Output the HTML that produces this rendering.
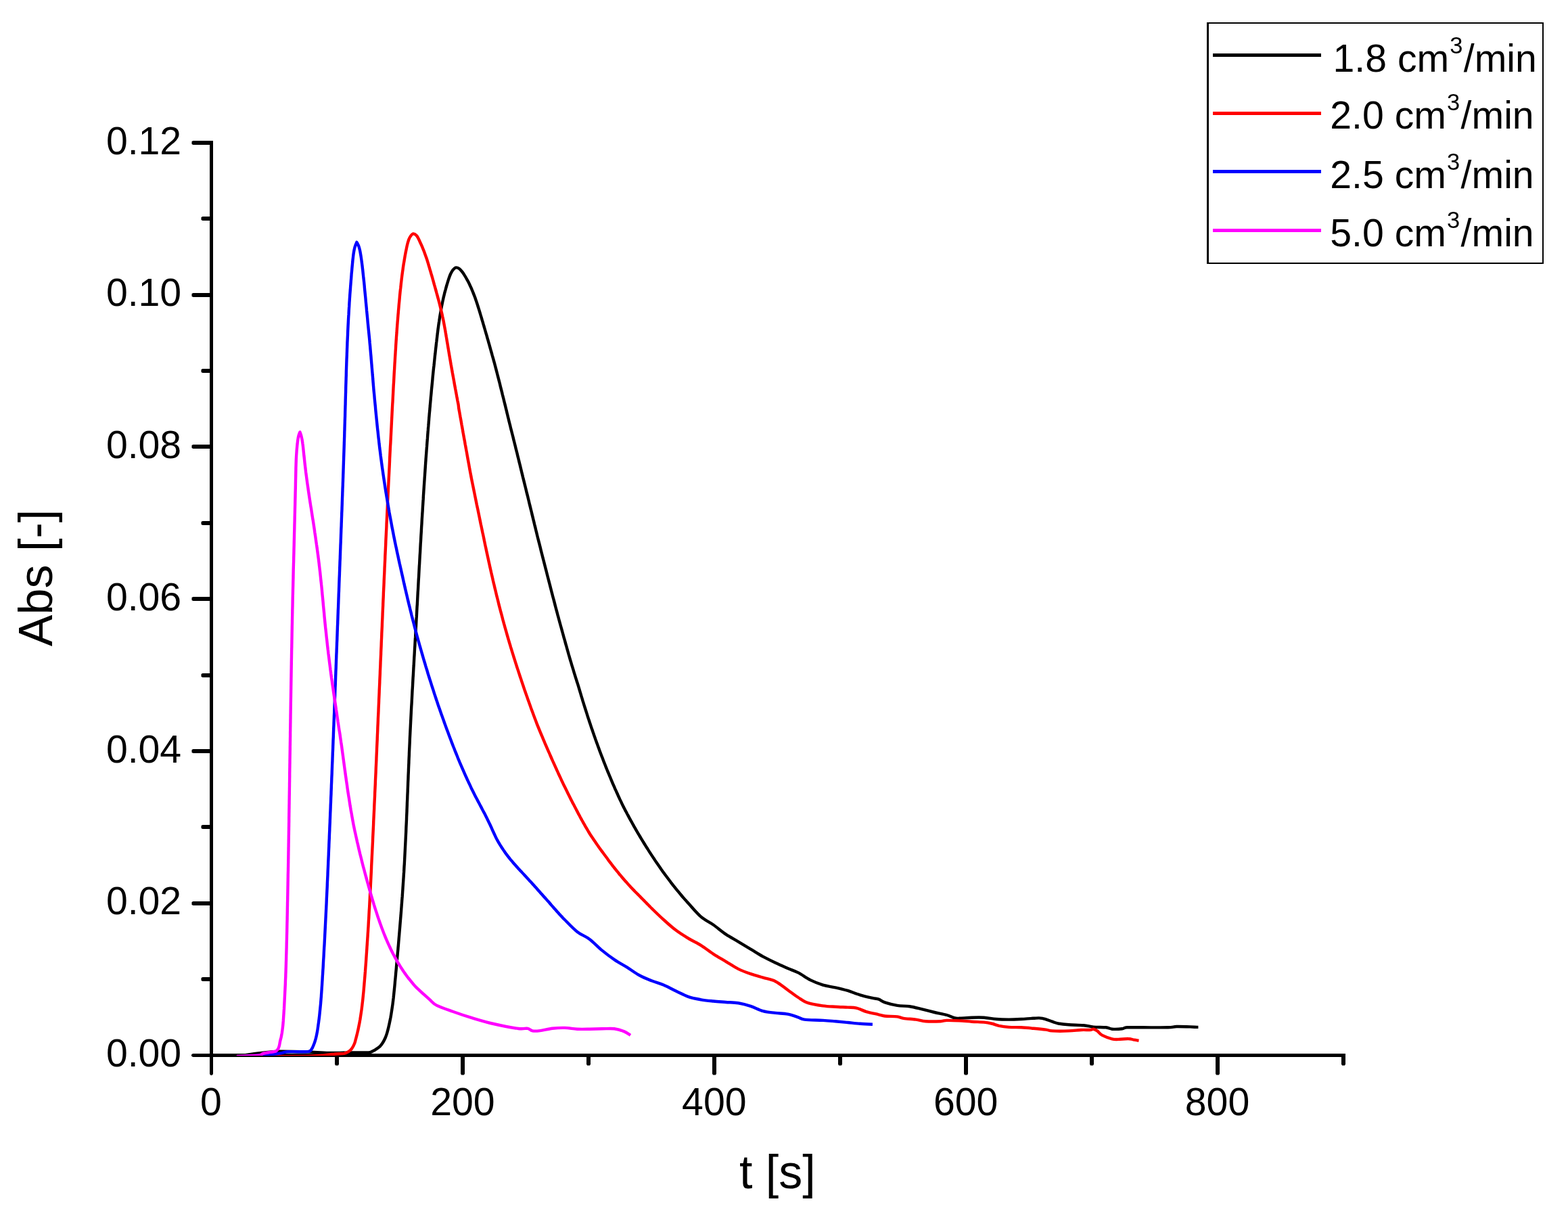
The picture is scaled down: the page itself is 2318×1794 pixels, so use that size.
<!DOCTYPE html>
<html lang="en">
<head>
<meta charset="utf-8">
<title>Abs vs t</title>
<style>
html,body{margin:0;padding:0;background:#fff;}
body{width:2318px;height:1794px;overflow:hidden;}
svg{display:block;}
</style>
</head>
<body>
<svg width="2318" height="1794" viewBox="0 0 2318 1794">
<rect width="2318" height="1794" fill="#fff"/>
<g fill="#000">
<path d="M310 208H315V1587L313.5 1589H311.5L310 1587Z"/>
<path d="M285 1557H1989V1562H285L283 1560.5V1558.5Z"/>
<path d="M312 1444 H299.5 L297.5 1445 V1449 L299.5 1450 H312Z"/>
<path d="M312 1332 H285.5 L283.5 1333 V1337 L285.5 1338 H312Z"/>
<path d="M312 1219 H299.5 L297.5 1220 V1224 L299.5 1225 H312Z"/>
<path d="M312 1107 H285.5 L283.5 1108 V1112 L285.5 1113 H312Z"/>
<path d="M312 995 H299.5 L297.5 996 V1000 L299.5 1001 H312Z"/>
<path d="M312 882 H285.5 L283.5 883 V887 L285.5 888 H312Z"/>
<path d="M312 770 H299.5 L297.5 771 V775 L299.5 776 H312Z"/>
<path d="M312 657 H285.5 L283.5 658 V662 L285.5 663 H312Z"/>
<path d="M312 545 H299.5 L297.5 546 V550 L299.5 551 H312Z"/>
<path d="M312 433 H285.5 L283.5 434 V438 L285.5 439 H312Z"/>
<path d="M312 320 H299.5 L297.5 321 V325 L299.5 326 H312Z"/>
<path d="M312 208 H285.5 L283.5 209 V213 L285.5 214 H312Z"/>
<path d="M495 1560 V1572.5 L496 1574.5 H500 L501 1572.5 V1560Z"/>
<path d="M681 1560 V1586.5 L682 1588.5 H686 L687 1586.5 V1560Z"/>
<path d="M867 1560 V1572.5 L868 1574.5 H872 L873 1572.5 V1560Z"/>
<path d="M1053 1560 V1586.5 L1054 1588.5 H1058 L1059 1586.5 V1560Z"/>
<path d="M1239 1560 V1572.5 L1240 1574.5 H1244 L1245 1572.5 V1560Z"/>
<path d="M1425 1560 V1586.5 L1426 1588.5 H1430 L1431 1586.5 V1560Z"/>
<path d="M1611 1560 V1572.5 L1612 1574.5 H1616 L1617 1572.5 V1560Z"/>
<path d="M1797 1560 V1586.5 L1798 1588.5 H1802 L1803 1586.5 V1560Z"/>
<path d="M1983 1560 V1572.5 L1984 1574.5 H1988 L1989 1572.5 V1560Z"/>
</g>
<clipPath id="pc"><rect x="313" y="200" width="1680" height="1360"/></clipPath>
<g fill="none" stroke-width="4.4" stroke-linejoin="round" stroke-linecap="butt" clip-path="url(#pc)">
<path stroke="#000000" d="M350.5 1561.0C355.4 1560.3 371.0 1557.9 379.8 1556.8C388.6 1555.6 396.9 1554.6 403.3 1554.1C409.6 1553.6 409.4 1553.7 417.9 1553.8C426.5 1553.8 443.1 1554.1 454.5 1554.4C466.0 1554.8 476.0 1555.7 486.6 1555.9C497.2 1556.1 509.0 1555.5 518.1 1555.4C527.3 1555.3 536.4 1555.5 541.6 1555.4C546.7 1555.2 545.9 1555.7 548.9 1554.4C552.0 1553.2 557.4 1549.7 559.9 1547.8C562.4 1546.0 562.8 1544.9 564.1 1543.3C565.3 1541.8 566.4 1540.1 567.3 1538.4C568.3 1536.6 569.1 1534.8 569.9 1533.0C570.6 1531.2 571.3 1529.3 571.9 1527.4C572.5 1525.4 573.0 1523.5 573.5 1521.6C574.0 1519.6 574.5 1517.7 574.9 1515.7C575.4 1513.7 575.8 1511.8 576.2 1509.8C576.6 1507.9 577.0 1505.9 577.4 1503.9C577.7 1502.0 578.1 1500.0 578.4 1498.0C578.7 1496.1 579.0 1494.1 579.3 1492.1C579.6 1490.1 579.9 1488.2 580.2 1486.2C580.5 1484.2 580.7 1482.2 581.0 1480.2C581.2 1478.2 581.4 1476.3 581.7 1474.3C581.9 1472.3 582.1 1470.3 582.3 1468.3C582.5 1466.3 582.7 1464.3 582.9 1462.3C583.1 1460.4 583.3 1458.4 583.5 1456.4C583.7 1454.4 583.9 1452.4 584.0 1450.4C584.2 1448.4 584.4 1446.4 584.6 1444.4C584.8 1442.4 585.0 1440.4 585.1 1438.4C585.3 1436.5 585.5 1434.5 585.7 1432.5C585.9 1430.5 586.0 1428.5 586.2 1426.5C586.4 1424.5 586.6 1422.5 586.8 1420.5C586.9 1418.5 587.1 1416.5 587.3 1414.5C587.5 1412.6 587.7 1410.6 587.8 1408.6C588.0 1406.6 588.2 1404.6 588.4 1402.6C588.5 1400.6 588.7 1398.6 588.9 1396.6C589.1 1394.6 589.2 1392.6 589.4 1390.6C589.6 1388.6 589.7 1386.7 589.9 1384.7C590.1 1382.7 590.3 1380.7 590.4 1378.7C590.6 1376.7 590.8 1374.7 590.9 1372.7C591.1 1370.7 591.3 1368.7 591.4 1366.7C591.6 1364.7 591.7 1362.7 591.9 1360.7C592.1 1358.8 592.2 1356.8 592.4 1354.8C592.5 1352.8 592.7 1350.8 592.9 1348.8C593.0 1346.8 593.2 1344.8 593.3 1342.8C593.5 1340.8 593.6 1338.8 593.8 1336.8C593.9 1334.8 594.1 1332.8 594.2 1330.8C594.4 1328.8 594.5 1326.8 594.7 1324.9C594.8 1322.9 595.0 1320.9 595.1 1318.9C595.2 1316.9 595.4 1314.9 595.5 1312.9C595.6 1310.9 595.8 1308.9 595.9 1306.9C596.0 1304.9 596.2 1302.9 596.3 1300.9C596.4 1298.9 596.6 1296.9 596.7 1294.9C596.8 1292.9 596.9 1290.9 597.1 1288.9C597.2 1286.9 597.3 1284.9 597.4 1282.9C597.5 1281.0 597.6 1279.0 597.8 1277.0C597.9 1275.0 598.0 1273.0 598.1 1271.0C598.2 1269.0 598.3 1267.0 598.4 1265.0C598.5 1263.0 598.6 1261.0 598.7 1259.0C598.8 1257.0 598.9 1255.0 599.0 1253.0C599.1 1251.0 599.2 1249.0 599.3 1247.0C599.4 1245.0 599.5 1243.0 599.6 1241.0C599.7 1239.0 599.8 1237.0 599.9 1235.0C600.0 1233.0 600.1 1231.0 600.2 1229.0C600.3 1227.0 600.3 1225.0 600.4 1223.0C600.5 1221.0 600.6 1219.0 600.7 1217.0C600.8 1215.0 600.9 1213.0 601.0 1211.0C601.0 1209.0 601.1 1207.0 601.2 1205.0C601.3 1203.0 601.4 1201.0 601.5 1199.0C601.5 1197.0 601.6 1195.0 601.7 1193.0C601.8 1191.0 601.9 1189.0 601.9 1187.0C602.0 1185.0 602.1 1183.0 602.2 1181.0C602.3 1179.0 602.3 1177.1 602.4 1175.1C602.5 1173.1 602.6 1171.1 602.7 1169.1C602.7 1167.1 602.8 1165.1 602.9 1163.1C603.0 1161.1 603.1 1159.1 603.1 1157.1C603.2 1155.1 603.3 1153.1 603.4 1151.1C603.5 1149.1 603.5 1147.1 603.6 1145.1C603.7 1143.1 603.8 1141.1 603.9 1139.1C603.9 1137.1 604.0 1135.1 604.1 1133.1C604.2 1131.1 604.3 1129.1 604.4 1127.1C604.4 1125.1 604.5 1123.1 604.6 1121.1C604.7 1119.1 604.8 1117.1 604.9 1115.1C604.9 1113.1 605.0 1111.1 605.1 1109.1C605.2 1107.1 605.3 1105.1 605.4 1103.1C605.5 1101.1 605.6 1099.1 605.7 1097.1C605.8 1095.1 605.8 1093.1 605.9 1091.1C606.0 1089.1 606.1 1087.1 606.2 1085.1C606.3 1083.1 606.4 1081.1 606.5 1079.1C606.6 1077.1 606.7 1075.1 606.8 1073.1C606.9 1071.1 607.0 1069.1 607.1 1067.1C607.2 1065.1 607.3 1063.2 607.4 1061.2C607.5 1059.2 607.6 1057.2 607.7 1055.2C607.8 1053.2 607.9 1051.2 608.0 1049.2C608.1 1047.2 608.2 1045.2 608.3 1043.2C608.5 1041.2 608.6 1039.2 608.7 1037.2C608.8 1035.2 608.9 1033.2 609.0 1031.2C609.1 1029.2 609.2 1027.2 609.3 1025.2C609.4 1023.2 609.5 1021.2 609.6 1019.2C609.8 1017.2 609.9 1015.2 610.0 1013.2C610.1 1011.2 610.2 1009.2 610.3 1007.2C610.4 1005.3 610.5 1003.3 610.6 1001.3C610.8 999.3 610.9 997.3 611.0 995.3C611.1 993.3 611.2 991.3 611.3 989.3C611.4 987.3 611.5 985.3 611.7 983.3C611.8 981.3 611.9 979.3 612.0 977.3C612.1 975.3 612.2 973.3 612.3 971.3C612.5 969.3 612.6 967.3 612.7 965.3C612.8 963.3 612.9 961.3 613.0 959.3C613.1 957.3 613.3 955.3 613.4 953.4C613.5 951.4 613.6 949.4 613.7 947.4C613.8 945.4 613.9 943.4 614.1 941.4C614.2 939.4 614.3 937.4 614.4 935.4C614.5 933.4 614.6 931.4 614.7 929.4C614.9 927.4 615.0 925.4 615.1 923.4C615.2 921.4 615.3 919.4 615.4 917.4C615.5 915.4 615.6 913.4 615.8 911.4C615.9 909.4 616.0 907.4 616.1 905.4C616.2 903.4 616.3 901.4 616.4 899.4C616.5 897.4 616.6 895.4 616.8 893.5C616.9 891.5 617.0 889.5 617.1 887.5C617.2 885.5 617.3 883.5 617.4 881.5C617.5 879.5 617.6 877.5 617.7 875.5C617.9 873.5 618.0 871.5 618.1 869.5C618.2 867.5 618.3 865.5 618.4 863.5C618.5 861.5 618.6 859.5 618.7 857.5C618.8 855.5 619.0 853.5 619.1 851.5C619.2 849.5 619.3 847.5 619.4 845.5C619.5 843.5 619.6 841.5 619.7 839.5C619.8 837.5 619.9 835.5 620.1 833.5C620.2 831.5 620.3 829.5 620.4 827.5C620.5 825.5 620.6 823.5 620.7 821.6C620.8 819.6 621.0 817.6 621.1 815.6C621.2 813.6 621.3 811.6 621.4 809.6C621.5 807.6 621.6 805.6 621.7 803.6C621.9 801.6 622.0 799.6 622.1 797.6C622.2 795.6 622.3 793.6 622.4 791.6C622.5 789.6 622.7 787.6 622.8 785.6C622.9 783.6 623.0 781.6 623.1 779.6C623.2 777.6 623.4 775.6 623.5 773.6C623.6 771.6 623.7 769.6 623.8 767.6C623.9 765.6 624.1 763.6 624.2 761.6C624.3 759.6 624.4 757.6 624.6 755.6C624.7 753.7 624.8 751.7 624.9 749.7C625.0 747.7 625.2 745.7 625.3 743.7C625.4 741.7 625.5 739.7 625.7 737.7C625.8 735.7 625.9 733.7 626.0 731.7C626.2 729.7 626.3 727.7 626.4 725.7C626.5 723.7 626.7 721.7 626.8 719.7C626.9 717.7 627.1 715.7 627.2 713.7C627.3 711.7 627.5 709.7 627.6 707.7C627.7 705.7 627.9 703.7 628.0 701.8C628.1 699.8 628.3 697.8 628.4 695.8C628.5 693.8 628.7 691.8 628.8 689.8C628.9 687.8 629.1 685.8 629.2 683.8C629.4 681.8 629.5 679.8 629.6 677.8C629.8 675.8 629.9 673.8 630.1 671.8C630.2 669.8 630.4 667.8 630.5 665.8C630.7 663.8 630.8 661.9 631.0 659.9C631.1 657.9 631.3 655.9 631.4 653.9C631.6 651.9 631.7 649.9 631.9 647.9C632.0 645.9 632.2 643.9 632.3 641.9C632.5 639.9 632.6 637.9 632.8 635.9C632.9 633.9 633.1 631.9 633.3 629.9C633.4 628.0 633.6 626.0 633.8 624.0C633.9 622.0 634.1 620.0 634.2 618.0C634.4 616.0 634.6 614.0 634.7 612.0C634.9 610.0 635.1 608.0 635.3 606.0C635.4 604.0 635.6 602.0 635.8 600.1C635.9 598.1 636.1 596.1 636.3 594.1C636.5 592.1 636.7 590.1 636.8 588.1C637.0 586.1 637.2 584.1 637.4 582.1C637.6 580.1 637.7 578.1 637.9 576.2C638.1 574.2 638.3 572.2 638.5 570.2C638.7 568.2 638.9 566.2 639.1 564.2C639.3 562.2 639.5 560.2 639.6 558.2C639.8 556.3 640.0 554.3 640.2 552.3C640.4 550.3 640.6 548.3 640.8 546.3C641.0 544.3 641.2 542.3 641.5 540.3C641.7 538.3 641.9 536.4 642.1 534.4C642.3 532.4 642.5 530.4 642.7 528.4C642.9 526.4 643.1 524.4 643.4 522.4C643.6 520.4 643.8 518.5 644.0 516.5C644.2 514.5 644.5 512.5 644.7 510.5C644.9 508.5 645.1 506.5 645.4 504.5C645.6 502.6 645.8 500.6 646.1 498.6C646.3 496.6 646.5 494.6 646.8 492.6C647.0 490.6 647.3 488.7 647.5 486.7C647.8 484.7 648.1 482.7 648.3 480.7C648.6 478.8 648.9 476.8 649.2 474.8C649.5 472.8 649.8 470.8 650.1 468.9C650.4 466.9 650.7 464.9 651.1 463.0C651.4 461.0 651.7 459.0 652.1 457.1C652.5 455.1 652.8 453.1 653.2 451.2C653.6 449.2 654.0 447.2 654.4 445.3C654.9 443.3 655.3 441.4 655.7 439.4C656.2 437.5 656.7 435.5 657.1 433.6C657.6 431.7 658.1 429.7 658.7 427.8C659.2 425.9 659.7 423.9 660.3 422.0C660.8 420.1 661.4 418.2 662.0 416.3C662.6 414.4 663.2 412.5 663.9 410.6C664.5 408.7 665.2 406.8 666.0 405.0C666.9 403.2 667.8 401.3 669.0 399.7C670.2 398.2 671.7 396.1 673.3 395.6C675.0 395.1 677.1 395.8 678.7 396.8C680.3 397.7 681.7 399.7 682.9 401.3C684.2 402.8 685.3 404.4 686.3 406.1C687.4 407.8 688.4 409.5 689.4 411.3C690.4 413.0 691.4 414.8 692.3 416.6C693.2 418.4 694.1 420.2 694.9 422.0C695.8 423.8 696.6 425.6 697.4 427.4C698.1 429.3 698.9 431.1 699.6 433.0C700.4 434.8 701.1 436.7 701.8 438.6C702.5 440.4 703.1 442.3 703.8 444.2C704.4 446.1 705.1 448.0 705.7 449.9C706.3 451.8 706.9 453.7 707.5 455.6C708.1 457.5 708.7 459.4 709.3 461.4C709.9 463.3 710.4 465.2 711.0 467.1C711.6 469.0 712.2 470.9 712.7 472.9C713.3 474.8 713.9 476.7 714.4 478.6C715.0 480.5 715.6 482.5 716.1 484.4C716.7 486.3 717.2 488.2 717.8 490.2C718.3 492.1 718.9 494.0 719.5 495.9C720.0 497.8 720.6 499.8 721.1 501.7C721.7 503.6 722.2 505.5 722.8 507.5C723.3 509.4 723.9 511.3 724.4 513.2C724.9 515.2 725.5 517.1 726.0 519.0C726.6 520.9 727.1 522.9 727.6 524.8C728.2 526.7 728.7 528.6 729.3 530.6C729.8 532.5 730.3 534.4 730.9 536.4C731.4 538.3 731.9 540.2 732.4 542.1C732.9 544.1 733.4 546.0 733.9 547.9C734.4 549.8 734.9 551.8 735.4 553.7C735.9 555.6 736.4 557.6 736.9 559.5C737.4 561.4 737.9 563.4 738.4 565.3C738.9 567.2 739.3 569.1 739.8 571.1C740.3 573.0 740.8 574.9 741.3 576.9C741.8 578.8 742.3 580.7 742.7 582.7C743.2 584.6 743.7 586.5 744.2 588.5C744.7 590.4 745.1 592.3 745.6 594.3C746.1 596.2 746.6 598.1 747.1 600.1C747.5 602.0 748.0 603.9 748.5 605.9C749.0 607.8 749.4 609.7 749.9 611.7C750.4 613.6 750.8 615.5 751.3 617.5C751.8 619.4 752.2 621.3 752.7 623.3C753.2 625.2 753.7 627.2 754.2 629.1C754.6 631.0 755.1 633.0 755.6 634.9C756.1 636.8 756.6 638.8 757.1 640.7C757.6 642.7 758.1 644.6 758.6 646.5C759.0 648.5 759.5 650.4 760.0 652.3C760.5 654.3 761.0 656.2 761.5 658.2C762.0 660.1 762.4 662.0 762.9 664.0C763.4 665.9 763.9 667.9 764.4 669.8C764.8 671.7 765.3 673.7 765.8 675.6C766.3 677.6 766.8 679.5 767.2 681.4C767.7 683.4 768.2 685.3 768.7 687.3C769.1 689.2 769.6 691.1 770.1 693.1C770.6 695.0 771.0 697.0 771.5 698.9C772.0 700.9 772.5 702.8 772.9 704.7C773.4 706.7 773.9 708.6 774.4 710.6C774.9 712.5 775.4 714.5 775.8 716.4C776.3 718.3 776.8 720.3 777.3 722.2C777.8 724.2 778.2 726.1 778.7 728.1C779.2 730.0 779.7 731.9 780.2 733.9C780.6 735.8 781.1 737.8 781.6 739.7C782.1 741.7 782.5 743.6 783.0 745.6C783.5 747.5 784.0 749.4 784.4 751.4C784.9 753.3 785.4 755.3 785.9 757.2C786.3 759.2 786.8 761.1 787.3 763.1C787.8 765.0 788.2 767.0 788.7 768.9C789.2 770.8 789.7 772.8 790.1 774.7C790.6 776.7 791.1 778.6 791.6 780.6C792.0 782.5 792.5 784.5 793.0 786.4C793.5 788.4 793.9 790.3 794.4 792.3C794.9 794.2 795.4 796.2 795.9 798.1C796.4 800.1 796.9 802.0 797.4 803.9C797.9 805.9 798.4 807.8 798.9 809.8C799.3 811.7 799.8 813.7 800.3 815.6C800.8 817.6 801.3 819.5 801.8 821.5C802.3 823.4 802.8 825.4 803.3 827.3C803.8 829.3 804.3 831.2 804.8 833.1C805.3 835.1 805.8 837.0 806.3 839.0C806.8 840.9 807.3 842.9 807.8 844.8C808.3 846.8 808.8 848.7 809.3 850.7C809.8 852.6 810.3 854.5 810.8 856.5C811.3 858.4 811.8 860.4 812.3 862.3C812.8 864.3 813.3 866.2 813.8 868.1C814.3 870.1 814.8 872.0 815.3 874.0C815.8 875.9 816.3 877.9 816.8 879.8C817.3 881.7 817.8 883.7 818.4 885.6C818.9 887.6 819.4 889.5 819.9 891.4C820.4 893.4 820.9 895.3 821.4 897.3C821.9 899.2 822.5 901.1 823.0 903.1C823.5 905.0 824.0 907.0 824.5 908.9C825.1 910.8 825.6 912.8 826.1 914.7C826.6 916.6 827.2 918.6 827.7 920.5C828.2 922.4 828.7 924.4 829.3 926.3C829.8 928.2 830.4 930.2 830.9 932.1C831.4 934.0 832.0 936.0 832.5 937.9C833.0 939.8 833.6 941.8 834.1 943.7C834.7 945.6 835.2 947.5 835.7 949.5C836.3 951.4 836.8 953.3 837.4 955.2C837.9 957.2 838.4 959.1 839.0 961.0C839.5 962.9 840.1 964.9 840.6 966.8C841.2 968.7 841.7 970.6 842.3 972.6C842.8 974.5 843.4 976.4 844.0 978.3C844.5 980.2 845.1 982.2 845.7 984.1C846.3 986.0 846.9 987.9 847.5 989.8C848.0 991.7 848.6 993.7 849.2 995.6C849.8 997.5 850.4 999.4 851.0 1001.3C851.6 1003.2 852.2 1005.1 852.8 1007.0C853.4 1008.9 854.1 1010.9 854.7 1012.8C855.3 1014.7 855.8 1016.6 856.4 1018.5C857.0 1020.4 857.5 1022.3 858.1 1024.2C858.7 1026.1 859.2 1028.0 859.8 1029.9C860.4 1031.8 861.0 1033.7 861.5 1035.6C862.1 1037.5 862.7 1039.4 863.3 1041.3C863.9 1043.2 864.5 1045.1 865.1 1047.0C865.7 1048.9 866.3 1050.8 866.9 1052.7C867.5 1054.5 868.1 1056.4 868.7 1058.3C869.3 1060.2 869.9 1062.1 870.6 1064.0C871.2 1065.9 871.8 1067.8 872.4 1069.6C873.1 1071.5 873.7 1073.4 874.3 1075.3C875.0 1077.2 875.6 1079.0 876.3 1080.9C876.9 1082.8 877.6 1084.7 878.2 1086.5C878.9 1088.4 879.6 1090.3 880.2 1092.2C880.9 1094.0 881.6 1095.9 882.2 1097.8C882.9 1099.6 883.6 1101.5 884.3 1103.4C885.0 1105.2 885.6 1107.1 886.3 1109.0C887.0 1110.8 887.7 1112.7 888.4 1114.6C889.1 1116.4 889.8 1118.3 890.6 1120.1C891.3 1122.0 892.0 1123.8 892.7 1125.7C893.4 1127.5 894.2 1129.4 894.9 1131.3C895.6 1133.1 896.4 1134.9 897.1 1136.8C897.9 1138.6 898.6 1140.5 899.4 1142.3C900.1 1144.2 900.9 1146.0 901.7 1147.8C902.4 1149.7 903.2 1151.5 904.0 1153.4C904.8 1155.2 905.5 1157.0 906.3 1158.9C907.1 1160.7 907.9 1162.5 908.7 1164.3C909.5 1166.2 910.4 1168.0 911.2 1169.8C912.0 1171.6 912.8 1173.4 913.6 1175.2C914.5 1177.1 915.3 1178.9 916.1 1180.7C917.0 1182.5 917.8 1184.3 918.7 1186.1C919.5 1187.9 920.4 1189.7 921.3 1191.5C922.2 1193.3 923.2 1195.1 924.1 1196.9C925.0 1198.7 926.0 1200.4 926.9 1202.2C927.9 1204.0 928.8 1205.8 929.8 1207.6C930.7 1209.3 931.7 1211.1 932.7 1212.9C933.7 1214.6 934.6 1216.4 935.6 1218.2C936.6 1219.9 937.6 1221.7 938.6 1223.4C939.6 1225.2 940.6 1226.9 941.6 1228.7C942.6 1230.4 943.7 1232.2 944.7 1233.9C945.7 1235.6 946.8 1237.4 947.8 1239.1C948.8 1240.8 949.9 1242.5 950.9 1244.2C952.0 1246.0 953.1 1247.7 954.1 1249.4C955.2 1251.1 956.3 1252.8 957.4 1254.5C958.4 1256.2 959.5 1257.9 960.6 1259.6C961.7 1261.3 962.8 1262.9 963.9 1264.6C965.0 1266.3 966.1 1268.0 967.2 1269.6C968.3 1271.3 969.4 1273.0 970.5 1274.6C971.7 1276.3 972.8 1277.9 974.0 1279.6C975.1 1281.2 976.3 1282.9 977.4 1284.5C978.6 1286.1 979.7 1287.8 980.9 1289.4C982.1 1291.0 983.3 1292.6 984.5 1294.2C985.7 1295.8 986.9 1297.4 988.1 1299.0C989.3 1300.6 990.5 1302.2 991.7 1303.8C993.0 1305.4 994.2 1307.0 995.4 1308.6C996.7 1310.1 997.9 1311.7 999.2 1313.3C1000.4 1314.8 1001.7 1316.4 1003.0 1317.9C1004.3 1319.5 1005.5 1321.0 1006.8 1322.5C1008.1 1324.1 1009.4 1325.6 1010.7 1327.1C1012.0 1328.6 1013.3 1330.1 1014.7 1331.6C1016.0 1333.1 1015.1 1332.2 1018.7 1336.1C1022.3 1340.0 1030.4 1349.8 1036.4 1354.9C1042.4 1360.1 1048.6 1362.6 1054.7 1366.8C1060.8 1371.1 1066.9 1376.5 1073.0 1380.6C1079.1 1384.7 1085.3 1387.9 1091.4 1391.6C1097.5 1395.2 1103.6 1398.9 1109.7 1402.6C1115.8 1406.2 1121.9 1410.2 1128.0 1413.6C1134.1 1416.9 1140.2 1419.8 1146.3 1422.7C1152.4 1425.6 1159.0 1428.5 1164.6 1431.0C1170.2 1433.4 1174.4 1434.5 1180.0 1437.4C1185.6 1440.3 1192.2 1445.3 1198.3 1448.4C1204.4 1451.4 1210.5 1453.8 1216.6 1455.7C1222.7 1457.5 1228.8 1458.0 1234.9 1459.3C1241.1 1460.7 1247.2 1462.1 1253.3 1463.9C1259.4 1465.8 1265.5 1468.5 1271.6 1470.3C1277.7 1472.2 1285.3 1473.8 1289.9 1474.9C1294.5 1476.0 1296.0 1475.7 1299.0 1476.7C1302.1 1477.8 1303.6 1479.8 1308.2 1481.3C1312.8 1482.8 1320.4 1484.9 1326.5 1485.9C1332.6 1486.9 1338.7 1486.3 1344.8 1487.2C1350.9 1488.1 1357.0 1489.9 1363.2 1491.4C1369.3 1492.9 1375.4 1494.5 1381.5 1496.0C1387.6 1497.4 1394.9 1498.6 1399.8 1500.0C1404.7 1501.4 1407.7 1503.4 1410.8 1504.2C1413.8 1505.0 1413.8 1504.9 1418.1 1504.8C1422.4 1504.7 1430.3 1503.8 1436.4 1503.7C1442.5 1503.5 1448.6 1503.3 1454.7 1503.7C1460.8 1504.1 1466.9 1505.6 1473.0 1506.0C1479.1 1506.5 1485.3 1506.6 1491.4 1506.6C1497.5 1506.6 1503.6 1506.3 1509.7 1506.0C1515.8 1505.7 1522.8 1505.0 1528.0 1504.8C1533.2 1504.5 1536.2 1503.9 1540.8 1504.8C1545.4 1505.6 1551.5 1508.4 1555.5 1509.7C1559.4 1511.0 1560.5 1511.7 1564.6 1512.5C1568.7 1513.2 1573.8 1513.8 1580.0 1514.3C1586.2 1514.7 1595.9 1514.7 1602.0 1515.2C1608.1 1515.8 1611.1 1517.1 1616.6 1517.6C1622.1 1518.1 1630.4 1517.8 1634.9 1518.3C1639.5 1518.8 1640.1 1520.4 1644.1 1520.7C1648.1 1521.0 1655.1 1520.7 1658.8 1520.3C1662.4 1519.9 1660.9 1518.7 1666.1 1518.3C1671.3 1518.0 1679.8 1518.3 1689.9 1518.3C1700.0 1518.3 1718.3 1518.5 1726.5 1518.3C1734.8 1518.1 1733.8 1517.2 1739.3 1517.0C1744.8 1516.9 1754.1 1517.2 1759.5 1517.4C1764.8 1517.6 1769.4 1517.9 1771.4 1517.9"/>
<path stroke="#ff0000" d="M354.8 1561.5C363.3 1561.4 388.5 1561.4 406.0 1561.2C423.6 1561.1 448.0 1561.0 460.3 1560.7C472.5 1560.4 473.7 1559.9 479.3 1559.4C484.9 1558.9 489.1 1558.1 494.0 1557.7C498.8 1557.2 504.9 1557.4 508.6 1556.8C512.3 1556.1 514.0 1554.9 515.9 1553.7C517.9 1552.5 519.0 1551.3 520.3 1549.3C521.7 1547.4 523.2 1544.2 524.1 1542.0C525.0 1539.8 525.2 1538.2 525.8 1536.2C526.3 1534.3 526.8 1532.3 527.3 1530.4C527.8 1528.5 528.3 1526.5 528.7 1524.6C529.2 1522.6 529.6 1520.7 530.0 1518.7C530.4 1516.7 530.8 1514.8 531.2 1512.8C531.6 1510.9 531.9 1508.9 532.3 1506.9C532.6 1504.9 532.9 1503.0 533.2 1501.0C533.5 1499.0 533.8 1497.0 534.1 1495.0C534.4 1493.1 534.7 1491.1 534.9 1489.1C535.2 1487.1 535.4 1485.1 535.6 1483.1C535.9 1481.1 536.1 1479.1 536.3 1477.2C536.5 1475.2 536.7 1473.2 536.9 1471.2C537.1 1469.2 537.3 1467.2 537.5 1465.2C537.7 1463.2 537.9 1461.2 538.0 1459.2C538.2 1457.2 538.4 1455.2 538.5 1453.2C538.7 1451.2 538.9 1449.2 539.0 1447.2C539.2 1445.2 539.4 1443.2 539.5 1441.2C539.7 1439.2 539.8 1437.2 540.0 1435.2C540.1 1433.2 540.3 1431.2 540.4 1429.2C540.6 1427.2 540.7 1425.2 540.9 1423.1C541.0 1421.1 541.2 1419.1 541.3 1417.1C541.4 1415.1 541.6 1413.1 541.7 1411.1C541.9 1409.1 542.0 1407.1 542.1 1405.1C542.3 1403.1 542.4 1401.1 542.5 1399.1C542.7 1397.1 542.8 1395.1 542.9 1393.1C543.1 1391.1 543.2 1389.1 543.3 1387.1C543.5 1385.1 543.6 1383.1 543.7 1381.1C543.8 1379.1 544.0 1377.1 544.1 1375.1C544.2 1373.1 544.3 1371.1 544.5 1369.1C544.6 1367.1 544.7 1365.1 544.8 1363.1C544.9 1361.1 545.0 1359.1 545.2 1357.1C545.3 1355.1 545.4 1353.1 545.5 1351.1C545.6 1349.1 545.7 1347.1 545.8 1345.1C546.0 1343.1 546.1 1341.1 546.2 1339.1C546.3 1337.1 546.4 1335.1 546.5 1333.1C546.6 1331.1 546.7 1329.1 546.8 1327.1C546.9 1325.1 547.0 1323.1 547.1 1321.1C547.2 1319.1 547.3 1317.1 547.5 1315.1C547.6 1313.1 547.7 1311.1 547.8 1309.1C547.9 1307.1 548.0 1305.1 548.1 1303.0C548.2 1301.0 548.3 1299.0 548.4 1297.0C548.5 1295.0 548.6 1293.0 548.7 1291.0C548.8 1289.0 548.9 1287.0 549.0 1285.0C549.1 1283.0 549.1 1281.0 549.2 1279.0C549.3 1277.0 549.4 1275.0 549.5 1273.0C549.6 1271.0 549.7 1269.0 549.8 1267.0C549.9 1265.0 550.0 1263.0 550.1 1261.0C550.2 1259.0 550.3 1257.0 550.4 1255.0C550.5 1253.0 550.6 1251.0 550.7 1249.0C550.8 1247.0 550.9 1245.0 551.0 1243.0C551.0 1241.0 551.1 1239.0 551.2 1237.0C551.3 1235.0 551.4 1233.0 551.5 1231.0C551.6 1229.0 551.7 1227.0 551.8 1225.0C551.9 1223.0 552.0 1221.0 552.1 1219.0C552.2 1217.0 552.2 1215.0 552.3 1212.9C552.4 1210.9 552.5 1208.9 552.6 1206.9C552.7 1204.9 552.8 1202.9 552.9 1200.9C553.0 1198.9 553.1 1196.9 553.2 1194.9C553.2 1192.9 553.3 1190.9 553.4 1188.9C553.5 1186.9 553.6 1184.9 553.7 1182.9C553.8 1180.9 553.9 1178.9 554.0 1176.9C554.1 1174.9 554.1 1172.9 554.2 1170.9C554.3 1168.9 554.4 1166.9 554.5 1164.9C554.6 1162.9 554.7 1160.9 554.8 1158.9C554.9 1156.9 554.9 1154.9 555.0 1152.9C555.1 1150.9 555.2 1148.9 555.3 1146.9C555.4 1144.9 555.5 1142.9 555.6 1140.8C555.7 1138.8 555.7 1136.8 555.8 1134.8C555.9 1132.8 556.0 1130.8 556.1 1128.8C556.2 1126.8 556.3 1124.8 556.4 1122.8C556.4 1120.8 556.5 1118.8 556.6 1116.8C556.7 1114.8 556.8 1112.8 556.9 1110.8C557.0 1108.8 557.0 1106.8 557.1 1104.8C557.2 1102.8 557.3 1100.8 557.4 1098.8C557.5 1096.8 557.6 1094.8 557.7 1092.8C557.7 1090.8 557.8 1088.8 557.9 1086.8C558.0 1084.8 558.1 1082.8 558.2 1080.8C558.3 1078.8 558.3 1076.8 558.4 1074.7C558.5 1072.7 558.6 1070.7 558.7 1068.7C558.8 1066.7 558.9 1064.7 558.9 1062.7C559.0 1060.7 559.1 1058.7 559.2 1056.7C559.3 1054.7 559.4 1052.7 559.5 1050.7C559.5 1048.7 559.6 1046.7 559.7 1044.7C559.8 1042.7 559.9 1040.7 560.0 1038.7C560.1 1036.7 560.1 1034.7 560.2 1032.7C560.3 1030.7 560.4 1028.7 560.5 1026.7C560.6 1024.7 560.7 1022.7 560.7 1020.7C560.8 1018.7 560.9 1016.7 561.0 1014.6C561.1 1012.6 561.2 1010.6 561.3 1008.6C561.3 1006.6 561.4 1004.6 561.5 1002.6C561.6 1000.6 561.7 998.6 561.8 996.6C561.9 994.6 561.9 992.6 562.0 990.6C562.1 988.6 562.2 986.6 562.3 984.6C562.4 982.6 562.5 980.6 562.5 978.6C562.6 976.6 562.7 974.6 562.8 972.6C562.9 970.6 563.0 968.6 563.1 966.6C563.1 964.6 563.2 962.6 563.3 960.6C563.4 958.6 563.5 956.6 563.6 954.5C563.7 952.5 563.7 950.5 563.8 948.5C563.9 946.5 564.0 944.5 564.1 942.5C564.2 940.5 564.3 938.5 564.3 936.5C564.4 934.5 564.5 932.5 564.6 930.5C564.7 928.5 564.8 926.5 564.9 924.5C564.9 922.5 565.0 920.5 565.1 918.5C565.2 916.5 565.3 914.5 565.4 912.5C565.5 910.5 565.6 908.5 565.6 906.5C565.7 904.5 565.8 902.5 565.9 900.5C566.0 898.5 566.1 896.5 566.2 894.4C566.2 892.4 566.3 890.4 566.4 888.4C566.5 886.4 566.6 884.4 566.7 882.4C566.8 880.4 566.9 878.4 566.9 876.4C567.0 874.4 567.1 872.4 567.2 870.4C567.3 868.4 567.4 866.4 567.5 864.4C567.6 862.4 567.7 860.4 567.7 858.4C567.8 856.4 567.9 854.4 568.0 852.4C568.1 850.4 568.2 848.4 568.3 846.4C568.4 844.4 568.5 842.4 568.5 840.4C568.6 838.4 568.7 836.4 568.8 834.4C568.9 832.3 569.0 830.3 569.1 828.3C569.2 826.3 569.3 824.3 569.3 822.3C569.4 820.3 569.5 818.3 569.6 816.3C569.7 814.3 569.8 812.3 569.9 810.3C570.0 808.3 570.1 806.3 570.2 804.3C570.3 802.3 570.3 800.3 570.4 798.3C570.5 796.3 570.6 794.3 570.7 792.3C570.8 790.3 570.9 788.3 571.0 786.3C571.1 784.3 571.2 782.3 571.3 780.3C571.4 778.3 571.5 776.3 571.5 774.3C571.6 772.3 571.7 770.3 571.8 768.3C571.9 766.3 572.0 764.2 572.1 762.2C572.2 760.2 572.3 758.2 572.4 756.2C572.5 754.2 572.6 752.2 572.7 750.2C572.8 748.2 572.9 746.2 573.0 744.2C573.0 742.2 573.1 740.2 573.2 738.2C573.3 736.2 573.4 734.2 573.5 732.2C573.6 730.2 573.7 728.2 573.8 726.2C573.9 724.2 574.0 722.2 574.1 720.2C574.2 718.2 574.3 716.2 574.4 714.2C574.5 712.2 574.6 710.2 574.7 708.2C574.8 706.2 574.9 704.2 575.0 702.2C575.1 700.2 575.2 698.2 575.3 696.2C575.4 694.2 575.5 692.2 575.6 690.2C575.7 688.1 575.8 686.1 575.9 684.1C576.0 682.1 576.1 680.1 576.1 678.1C576.2 676.1 576.3 674.1 576.4 672.1C576.5 670.1 576.6 668.1 576.7 666.1C576.8 664.1 576.9 662.1 577.0 660.1C577.1 658.1 577.3 656.1 577.4 654.1C577.5 652.1 577.6 650.1 577.7 648.1C577.8 646.1 577.9 644.1 578.0 642.1C578.1 640.1 578.2 638.1 578.3 636.1C578.4 634.1 578.5 632.1 578.6 630.1C578.7 628.1 578.8 626.1 578.9 624.1C579.0 622.1 579.1 620.1 579.2 618.1C579.3 616.1 579.4 614.1 579.5 612.1C579.6 610.1 579.7 608.1 579.8 606.1C579.9 604.0 580.0 602.0 580.1 600.0C580.2 598.0 580.3 596.0 580.5 594.0C580.6 592.0 580.7 590.0 580.8 588.0C580.9 586.0 581.0 584.0 581.1 582.0C581.2 580.0 581.3 578.0 581.4 576.0C581.5 574.0 581.6 572.0 581.7 570.0C581.8 568.0 582.0 566.0 582.1 564.0C582.2 562.0 582.3 560.0 582.4 558.0C582.5 556.0 582.6 554.0 582.7 552.0C582.8 550.0 582.9 548.0 583.1 546.0C583.2 544.0 583.3 542.0 583.4 540.0C583.5 538.0 583.6 536.0 583.8 534.0C583.9 532.0 584.0 530.0 584.1 528.0C584.2 526.0 584.4 524.0 584.5 522.0C584.6 520.0 584.7 518.0 584.9 516.0C585.0 514.0 585.1 512.0 585.2 510.0C585.4 508.0 585.5 506.0 585.6 504.0C585.8 502.0 585.9 500.0 586.0 498.0C586.2 496.0 586.3 494.0 586.5 492.0C586.6 490.0 586.7 488.0 586.9 486.0C587.0 484.0 587.2 482.0 587.3 480.0C587.5 478.0 587.6 476.0 587.8 474.0C588.0 472.0 588.1 470.0 588.3 468.0C588.4 466.0 588.6 464.0 588.8 462.0C588.9 460.0 589.1 458.0 589.3 456.0C589.5 454.0 589.6 452.0 589.8 450.0C590.0 448.0 590.2 446.0 590.4 444.0C590.6 442.0 590.8 440.0 590.9 438.0C591.1 436.0 591.3 434.0 591.5 432.0C591.7 430.0 591.9 428.0 592.2 426.0C592.4 424.0 592.6 422.0 592.8 420.1C593.0 418.1 593.3 416.1 593.5 414.1C593.7 412.1 594.0 410.1 594.2 408.1C594.5 406.1 594.7 404.1 595.0 402.1C595.3 400.2 595.6 398.2 595.8 396.2C596.1 394.2 596.4 392.2 596.7 390.2C597.0 388.3 597.4 386.3 597.7 384.3C598.0 382.3 598.4 380.4 598.7 378.4C599.1 376.4 599.4 374.4 599.8 372.5C600.2 370.5 600.6 368.5 601.0 366.6C601.4 364.6 601.8 362.6 602.3 360.7C602.8 358.7 603.3 356.8 604.0 354.9C604.7 353.1 605.4 351.0 606.6 349.5C607.7 347.9 609.2 345.7 610.8 345.4C612.3 345.2 614.5 346.8 615.8 348.1C617.2 349.4 617.9 351.6 618.9 353.3C619.8 355.1 620.6 356.9 621.4 358.8C622.3 360.6 623.1 362.4 623.9 364.2C624.7 366.1 625.4 367.9 626.2 369.8C626.9 371.7 627.6 373.5 628.3 375.4C629.0 377.3 629.7 379.2 630.3 381.1C631.0 383.0 631.6 384.9 632.2 386.9C632.8 388.8 633.4 390.7 633.9 392.6C634.5 394.5 635.1 396.4 635.6 398.4C636.2 400.3 636.8 402.2 637.3 404.1C637.9 406.0 638.4 407.9 639.0 409.8C639.5 411.7 640.0 413.6 640.6 415.5C641.1 417.5 641.7 419.4 642.2 421.3C642.8 423.2 643.3 425.1 643.8 427.0C644.4 429.0 644.9 430.9 645.4 432.8C646.0 434.7 646.5 436.7 647.0 438.6C647.5 440.5 648.1 442.5 648.6 444.4C649.1 446.3 649.6 448.3 650.1 450.2C650.6 452.2 651.1 454.1 651.5 456.1C652.0 458.0 652.5 460.0 652.9 461.9C653.4 463.9 653.8 465.8 654.2 467.8C654.7 469.7 655.1 471.7 655.5 473.7C655.9 475.6 656.2 477.6 656.6 479.6C657.0 481.6 657.3 483.5 657.7 485.5C658.0 487.5 658.4 489.4 658.7 491.4C659.1 493.4 659.4 495.4 659.7 497.4C660.1 499.3 660.4 501.3 660.7 503.3C661.0 505.3 661.4 507.2 661.7 509.2C662.0 511.2 662.3 513.2 662.7 515.2C663.0 517.1 663.3 519.1 663.7 521.1C664.0 523.1 664.3 525.0 664.7 527.0C665.0 529.0 665.4 531.0 665.7 532.9C666.0 534.9 666.4 536.9 666.7 538.9C667.1 540.8 667.4 542.8 667.8 544.8C668.1 546.8 668.5 548.7 668.8 550.7C669.2 552.7 669.5 554.7 669.9 556.6C670.3 558.6 670.6 560.6 671.0 562.5C671.3 564.5 671.7 566.5 672.0 568.5C672.4 570.4 672.8 572.4 673.1 574.4C673.5 576.3 673.9 578.3 674.2 580.3C674.6 582.3 675.0 584.2 675.3 586.2C675.7 588.2 676.1 590.1 676.4 592.1C676.8 594.1 677.2 596.0 677.6 598.0C677.9 600.0 678.0 602.0 678.3 603.9C678.6 605.9 679.0 607.9 679.4 609.8C679.7 611.8 680.1 613.8 680.4 615.7C680.8 617.7 681.1 619.7 681.5 621.6C681.8 623.6 682.2 625.6 682.5 627.6C682.9 629.5 683.2 631.5 683.6 633.5C683.9 635.4 684.3 637.4 684.6 639.4C685.0 641.3 685.3 643.3 685.7 645.3C686.0 647.2 686.4 649.2 686.8 651.2C687.1 653.1 687.5 655.1 687.8 657.1C688.2 659.0 688.5 661.0 688.9 663.0C689.2 664.9 689.6 666.9 690.0 668.9C690.3 670.9 690.7 672.8 691.0 674.8C691.4 676.8 691.7 678.7 692.1 680.7C692.4 682.7 692.8 684.6 693.2 686.6C693.5 688.6 693.9 690.5 694.2 692.5C694.6 694.5 694.9 696.4 695.3 698.4C695.7 700.4 696.1 702.3 696.4 704.3C696.8 706.3 697.2 708.3 697.6 710.2C698.0 712.2 698.4 714.2 698.8 716.1C699.2 718.1 699.6 720.1 700.0 722.0C700.4 724.0 700.8 726.0 701.2 727.9C701.6 729.9 702.0 731.9 702.4 733.9C702.8 735.8 703.2 737.8 703.6 739.8C704.0 741.7 704.4 743.7 704.8 745.7C705.2 747.6 705.6 749.6 706.1 751.6C706.5 753.5 706.9 755.5 707.3 757.5C707.7 759.4 708.1 761.4 708.5 763.4C708.9 765.3 709.3 767.3 709.7 769.3C710.1 771.2 710.5 773.2 710.9 775.2C711.4 777.1 711.8 779.1 712.2 781.1C712.6 783.0 713.0 785.0 713.4 787.0C713.9 788.9 714.3 790.9 714.7 792.9C715.1 794.8 715.5 796.8 715.9 798.7C716.3 800.7 716.7 802.7 717.1 804.6C717.5 806.6 718.0 808.6 718.4 810.5C718.8 812.5 719.2 814.4 719.6 816.4C720.1 818.4 720.5 820.3 720.9 822.3C721.3 824.2 721.8 826.2 722.2 828.2C722.6 830.1 723.0 832.1 723.5 834.0C723.9 836.0 724.3 838.0 724.8 839.9C725.2 841.9 725.7 843.8 726.1 845.8C726.6 847.7 727.0 849.7 727.5 851.6C727.9 853.6 728.4 855.5 728.8 857.5C729.3 859.4 729.7 861.4 730.2 863.3C730.7 865.3 731.1 867.3 731.6 869.2C732.1 871.1 732.5 873.1 733.0 875.0C733.5 877.0 733.9 878.9 734.4 880.9C734.9 882.8 735.4 884.8 735.9 886.7C736.4 888.7 736.9 890.6 737.3 892.6C737.8 894.5 738.3 896.4 738.8 898.4C739.3 900.3 739.8 902.3 740.3 904.2C740.9 906.1 741.4 908.1 741.9 910.0C742.4 912.0 742.9 913.9 743.4 915.8C744.0 917.8 744.5 919.7 745.0 921.6C745.6 923.6 746.1 925.5 746.6 927.4C747.2 929.4 747.7 931.3 748.3 933.2C748.8 935.1 749.4 937.1 749.9 939.0C750.5 940.9 751.0 942.9 751.6 944.8C752.2 946.7 752.7 948.6 753.3 950.6C753.9 952.5 754.5 954.4 755.0 956.3C755.6 958.2 756.2 960.2 756.8 962.1C757.4 964.0 758.0 965.9 758.6 967.8C759.2 969.7 759.7 971.7 760.4 973.6C761.0 975.5 761.6 977.4 762.2 979.3C762.8 981.2 763.4 983.1 764.0 985.0C764.6 986.9 765.3 988.8 765.9 990.7C766.5 992.7 767.1 994.6 767.8 996.5C768.4 998.4 769.0 1000.3 769.7 1002.2C770.3 1004.1 770.9 1006.0 771.6 1007.9C772.2 1009.8 772.8 1011.7 773.5 1013.5C774.1 1015.4 774.8 1017.3 775.4 1019.2C776.1 1021.1 776.7 1023.0 777.4 1024.9C778.0 1026.8 778.7 1028.7 779.4 1030.6C780.0 1032.4 780.7 1034.3 781.4 1036.2C782.0 1038.1 782.7 1040.0 783.4 1041.8C784.1 1043.7 784.7 1045.6 785.4 1047.5C786.1 1049.4 786.8 1051.2 787.5 1053.1C788.2 1055.0 788.9 1056.8 789.6 1058.7C790.3 1060.6 791.0 1062.5 791.7 1064.3C792.4 1066.2 793.1 1068.1 793.8 1069.9C794.5 1071.8 795.3 1073.7 796.1 1075.5C796.9 1077.4 797.6 1079.2 798.4 1081.1C799.2 1083.0 799.9 1084.8 800.7 1086.7C801.5 1088.5 802.3 1090.4 803.1 1092.3C803.9 1094.1 804.7 1096.0 805.4 1097.8C806.2 1099.7 807.0 1101.5 807.8 1103.4C808.6 1105.2 809.4 1107.1 810.2 1108.9C811.0 1110.8 811.9 1112.6 812.7 1114.5C813.5 1116.3 814.3 1118.2 815.1 1120.0C815.9 1121.9 816.8 1123.7 817.6 1125.6C818.4 1127.4 819.3 1129.3 820.1 1131.1C820.9 1132.9 821.7 1134.8 822.6 1136.6C823.4 1138.5 824.3 1140.3 825.1 1142.2C826.0 1144.0 826.8 1145.8 827.7 1147.7C828.5 1149.5 829.4 1151.3 830.2 1153.2C831.1 1155.0 832.0 1156.8 832.8 1158.7C833.7 1160.5 834.6 1162.3 835.5 1164.1C836.4 1166.0 837.3 1167.8 838.2 1169.6C839.1 1171.4 840.0 1173.2 840.9 1175.0C841.8 1176.8 842.7 1178.7 843.6 1180.5C844.5 1182.3 845.5 1184.1 846.4 1185.9C847.3 1187.7 848.3 1189.4 849.2 1191.2C850.2 1193.0 851.1 1194.8 852.0 1196.6C853.0 1198.4 853.9 1200.1 854.8 1201.9C855.7 1203.7 856.7 1205.4 857.6 1207.2C858.6 1209.0 859.5 1210.7 860.5 1212.5C861.5 1214.2 862.4 1216.0 863.4 1217.7C864.4 1219.4 865.4 1221.2 866.4 1222.9C867.4 1224.6 868.4 1226.3 869.4 1228.0C870.5 1229.8 871.5 1231.5 872.6 1233.2C873.7 1234.9 874.8 1236.5 876.0 1238.2C877.1 1239.9 878.2 1241.6 879.4 1243.3C880.5 1244.9 881.6 1246.6 882.8 1248.3C884.0 1249.9 885.1 1251.6 886.3 1253.2C887.5 1254.9 888.7 1256.5 889.9 1258.1C891.1 1259.7 892.3 1261.4 893.5 1263.0C894.7 1264.6 895.9 1266.2 897.1 1267.8C898.3 1269.4 899.4 1271.0 900.6 1272.6C901.8 1274.1 903.0 1275.7 904.2 1277.3C905.4 1278.8 906.6 1280.4 907.8 1282.0C909.0 1283.5 910.2 1285.0 911.5 1286.6C912.7 1288.1 914.0 1289.6 915.2 1291.2C916.5 1292.7 917.7 1294.2 919.0 1295.7C920.3 1297.2 921.6 1298.7 922.9 1300.2C924.2 1301.7 925.5 1303.2 926.8 1304.6C928.1 1306.1 929.4 1307.6 930.8 1309.0C932.1 1310.5 933.5 1311.9 934.8 1313.4C936.2 1314.8 937.6 1316.2 939.0 1317.7C940.4 1319.1 941.8 1320.5 943.2 1321.9C944.6 1323.3 946.0 1324.7 947.4 1326.1C948.8 1327.5 950.2 1329.0 951.6 1330.4C953.0 1331.8 954.4 1333.2 955.8 1334.6C957.2 1336.0 958.6 1337.5 960.0 1338.9C961.4 1340.3 960.6 1339.7 964.2 1343.1C967.8 1346.6 975.5 1354.2 981.5 1359.5C987.4 1364.9 993.7 1370.5 999.8 1375.1C1005.9 1379.7 1012.0 1383.3 1018.1 1387.0C1024.2 1390.7 1030.3 1393.3 1036.4 1397.1C1042.5 1400.9 1048.6 1405.9 1054.7 1409.9C1060.8 1413.9 1066.9 1417.2 1073.0 1420.9C1079.1 1424.5 1085.3 1428.8 1091.4 1431.9C1097.5 1434.9 1103.6 1437.1 1109.7 1439.2C1115.8 1441.3 1121.9 1442.9 1128.0 1444.7C1134.1 1446.5 1140.2 1447.1 1146.3 1450.2C1152.4 1453.2 1159.0 1459.0 1164.6 1463.0C1170.2 1467.0 1175.0 1470.8 1180.0 1474.0C1185.0 1477.2 1188.5 1480.2 1194.7 1482.2C1200.8 1484.3 1209.9 1485.5 1216.6 1486.4C1223.3 1487.4 1228.8 1487.4 1234.9 1487.7C1241.1 1488.1 1248.1 1488.3 1253.3 1488.6C1258.4 1488.9 1261.5 1488.5 1266.1 1489.6C1270.7 1490.6 1275.2 1493.4 1280.7 1495.1C1286.2 1496.7 1294.5 1498.2 1299.0 1499.3C1303.6 1500.3 1303.6 1500.9 1308.2 1501.5C1312.8 1502.0 1321.9 1501.8 1326.5 1502.4C1331.1 1502.9 1331.1 1504.1 1335.7 1504.8C1340.3 1505.5 1348.5 1505.9 1354.0 1506.6C1359.5 1507.3 1362.5 1508.7 1368.6 1509.2C1374.7 1509.6 1385.4 1509.4 1390.6 1509.2C1395.8 1508.9 1395.2 1508.0 1399.8 1507.9C1404.4 1507.8 1412.0 1508.1 1418.1 1508.4C1424.2 1508.7 1430.3 1509.3 1436.4 1509.7C1442.5 1510.1 1449.8 1510.2 1454.7 1510.6C1459.6 1511.1 1462.1 1511.6 1465.7 1512.5C1469.4 1513.3 1472.4 1514.8 1476.7 1515.8C1481.0 1516.7 1485.9 1517.5 1491.4 1517.9C1496.8 1518.4 1503.6 1518.0 1509.7 1518.3C1515.8 1518.6 1521.9 1519.2 1528.0 1519.8C1534.1 1520.3 1541.7 1521.0 1546.3 1521.6C1550.9 1522.2 1549.8 1523.1 1555.5 1523.4C1561.1 1523.7 1572.9 1523.7 1580.0 1523.4C1587.1 1523.2 1593.1 1522.2 1598.3 1522.0C1603.5 1521.7 1608.1 1522.2 1611.1 1522.0C1614.2 1521.8 1614.8 1520.5 1616.6 1520.7C1618.5 1520.9 1620.0 1521.9 1622.1 1523.4C1624.3 1525.0 1625.8 1527.9 1629.5 1529.9C1633.1 1531.8 1640.1 1534.3 1644.1 1535.3C1648.1 1536.4 1649.3 1536.0 1653.3 1535.9C1657.2 1535.8 1664.2 1534.9 1667.9 1535.0C1671.6 1535.0 1672.6 1535.8 1675.2 1536.3C1677.8 1536.7 1682.1 1537.5 1683.5 1537.7"/>
<path stroke="#0000ff" d="M352.0 1561.5C353.8 1561.4 353.2 1561.8 363.0 1561.0C372.7 1560.3 400.2 1558.1 410.6 1557.0C421.0 1555.9 417.9 1554.8 425.2 1554.3C432.6 1553.8 448.7 1554.7 454.5 1554.1C460.4 1553.5 458.8 1552.5 460.4 1550.8C462.0 1549.0 463.1 1545.6 464.0 1543.4C465.0 1541.3 465.4 1539.6 466.0 1537.7C466.6 1535.8 467.1 1533.8 467.5 1531.9C468.0 1530.0 468.3 1528.0 468.7 1526.1C469.1 1524.1 469.4 1522.1 469.7 1520.2C470.0 1518.2 470.3 1516.3 470.5 1514.3C470.8 1512.3 471.1 1510.3 471.3 1508.4C471.6 1506.4 471.8 1504.4 472.1 1502.4C472.3 1500.5 472.5 1498.5 472.7 1496.5C472.9 1494.5 473.1 1492.5 473.3 1490.5C473.5 1488.5 473.7 1486.6 473.9 1484.6C474.1 1482.6 474.2 1480.6 474.4 1478.6C474.5 1476.6 474.7 1474.6 474.9 1472.6C475.0 1470.6 475.1 1468.6 475.3 1466.6C475.4 1464.6 475.6 1462.6 475.7 1460.6C475.8 1458.6 476.0 1456.6 476.1 1454.6C476.2 1452.6 476.3 1450.6 476.5 1448.6C476.6 1446.6 476.7 1444.6 476.8 1442.6C477.0 1440.6 477.1 1438.6 477.2 1436.6C477.3 1434.6 477.4 1432.6 477.6 1430.6C477.7 1428.6 477.8 1426.6 477.9 1424.6C478.0 1422.6 478.1 1420.6 478.2 1418.6C478.4 1416.6 478.5 1414.6 478.6 1412.6C478.7 1410.6 478.8 1408.6 478.9 1406.6C479.0 1404.6 479.1 1402.6 479.2 1400.6C479.4 1398.6 479.5 1396.6 479.6 1394.6C479.7 1392.6 479.8 1390.6 479.9 1388.6C480.0 1386.6 480.1 1384.6 480.2 1382.6C480.3 1380.6 480.4 1378.6 480.5 1376.6C480.6 1374.6 480.7 1372.6 480.8 1370.6C480.9 1368.6 481.0 1366.6 481.1 1364.6C481.2 1362.6 481.3 1360.6 481.4 1358.6C481.5 1356.7 481.6 1354.7 481.7 1352.7C481.8 1350.7 481.9 1348.7 482.0 1346.7C482.1 1344.7 482.2 1342.7 482.3 1340.7C482.4 1338.7 482.5 1336.7 482.6 1334.7C482.7 1332.7 482.8 1330.7 482.8 1328.7C482.9 1326.7 483.0 1324.7 483.1 1322.7C483.2 1320.7 483.3 1318.7 483.4 1316.7C483.5 1314.7 483.6 1312.7 483.7 1310.7C483.8 1308.7 483.8 1306.7 483.9 1304.7C484.0 1302.7 484.1 1300.7 484.2 1298.7C484.3 1296.7 484.4 1294.7 484.5 1292.7C484.5 1290.7 484.6 1288.7 484.7 1286.7C484.8 1284.7 484.9 1282.7 485.0 1280.7C485.1 1278.7 485.2 1276.7 485.2 1274.7C485.3 1272.7 485.4 1270.7 485.5 1268.7C485.6 1266.7 485.7 1264.7 485.8 1262.7C485.8 1260.7 485.9 1258.7 486.0 1256.7C486.1 1254.7 486.2 1252.7 486.3 1250.7C486.3 1248.7 486.4 1246.7 486.5 1244.7C486.6 1242.7 486.7 1240.7 486.8 1238.7C486.8 1236.7 486.9 1234.7 487.0 1232.7C487.1 1230.7 487.2 1228.7 487.3 1226.7C487.3 1224.7 487.4 1222.7 487.5 1220.7C487.6 1218.7 487.7 1216.7 487.8 1214.7C487.8 1212.7 487.9 1210.7 488.0 1208.7C488.1 1206.7 488.2 1204.8 488.2 1202.8C488.3 1200.8 488.4 1198.8 488.5 1196.8C488.6 1194.8 488.7 1192.8 488.7 1190.8C488.8 1188.8 488.9 1186.8 489.0 1184.8C489.1 1182.8 489.1 1180.8 489.2 1178.8C489.3 1176.8 489.4 1174.8 489.5 1172.8C489.5 1170.8 489.6 1168.8 489.7 1166.8C489.8 1164.8 489.9 1162.8 489.9 1160.8C490.0 1158.8 490.1 1156.8 490.2 1154.8C490.3 1152.8 490.3 1150.8 490.4 1148.8C490.5 1146.8 490.6 1144.8 490.7 1142.8C490.7 1140.8 490.8 1138.8 490.9 1136.8C491.0 1134.8 491.1 1132.8 491.1 1130.8C491.2 1128.8 491.3 1126.8 491.4 1124.8C491.5 1122.8 491.5 1120.8 491.6 1118.8C491.7 1116.8 491.8 1114.8 491.8 1112.8C491.9 1110.8 492.0 1108.8 492.1 1106.8C492.2 1104.8 492.2 1102.8 492.3 1100.8C492.4 1098.8 492.5 1096.8 492.5 1094.8C492.6 1092.8 492.7 1090.8 492.8 1088.8C492.9 1086.8 492.9 1084.8 493.0 1082.8C493.1 1080.8 493.2 1078.8 493.2 1076.8C493.3 1074.8 493.4 1072.8 493.5 1070.8C493.5 1068.8 493.6 1066.8 493.7 1064.8C493.8 1062.8 493.9 1060.8 493.9 1058.8C494.0 1056.8 494.1 1054.8 494.2 1052.8C494.2 1050.8 494.3 1048.8 494.4 1046.8C494.5 1044.8 494.5 1042.8 494.6 1040.8C494.7 1038.8 494.8 1036.8 494.9 1034.8C494.9 1032.8 495.0 1030.8 495.1 1028.8C495.2 1026.8 495.2 1024.8 495.3 1022.8C495.4 1020.8 495.5 1018.8 495.5 1016.8C495.6 1014.8 495.7 1012.8 495.8 1010.8C495.8 1008.8 495.9 1006.8 496.0 1004.8C496.1 1002.8 496.1 1000.8 496.2 998.8C496.3 996.8 496.4 994.8 496.4 992.8C496.5 990.8 496.6 988.8 496.7 986.8C496.7 984.8 496.8 982.8 496.9 980.8C497.0 978.8 497.0 976.8 497.1 974.8C497.2 972.8 497.3 970.8 497.3 968.8C497.4 966.8 497.5 964.8 497.6 962.8C497.6 960.8 497.7 958.8 497.8 956.8C497.9 954.8 498.0 952.8 498.0 950.8C498.1 948.8 498.2 946.8 498.3 944.8C498.3 942.8 498.4 940.8 498.5 938.8C498.6 936.8 498.6 934.8 498.7 932.8C498.8 930.8 498.9 928.8 498.9 926.8C499.0 924.8 499.1 922.8 499.2 920.8C499.2 918.8 499.3 916.8 499.4 914.8C499.5 912.8 499.5 910.8 499.6 908.8C499.7 906.8 499.8 904.8 499.8 902.8C499.9 900.8 500.0 898.8 500.1 896.8C500.1 894.8 500.2 892.8 500.3 890.8C500.4 888.8 500.4 886.8 500.5 884.8C500.6 882.8 500.7 880.8 500.7 878.8C500.8 876.8 500.9 874.8 501.0 872.8C501.0 870.8 501.1 868.8 501.2 866.8C501.3 864.8 501.3 862.8 501.4 860.8C501.5 858.8 501.6 856.8 501.6 854.8C501.7 852.8 501.8 850.8 501.9 848.8C501.9 846.8 502.0 844.8 502.1 842.8C502.2 840.8 502.2 838.8 502.3 836.8C502.4 834.8 502.5 832.8 502.5 830.8C502.6 828.8 502.7 826.8 502.8 824.8C502.8 822.8 502.9 820.8 503.0 818.8C503.1 816.8 503.1 814.8 503.2 812.8C503.3 810.8 503.4 808.8 503.4 806.8C503.5 804.8 503.6 802.8 503.7 800.8C503.7 798.8 503.8 796.8 503.9 794.8C504.0 792.8 504.0 790.8 504.1 788.8C504.2 786.8 504.3 784.8 504.3 782.8C504.4 780.8 504.5 778.8 504.6 776.8C504.6 774.8 504.7 772.8 504.8 770.8C504.9 768.8 504.9 766.8 505.0 764.8C505.1 762.8 505.2 760.8 505.2 758.8C505.3 756.9 505.4 754.9 505.5 752.9C505.5 750.9 505.6 748.9 505.7 746.9C505.8 744.9 505.8 742.9 505.9 740.9C506.0 738.9 506.0 736.9 506.1 734.9C506.2 732.9 506.3 730.9 506.3 728.9C506.4 726.9 506.5 724.9 506.5 722.9C506.6 720.9 506.7 718.9 506.8 716.9C506.8 714.9 506.9 712.9 507.0 710.9C507.0 708.9 507.1 706.9 507.2 704.9C507.2 702.9 507.3 700.9 507.4 698.9C507.5 696.9 507.5 694.9 507.6 692.9C507.7 690.9 507.7 688.9 507.8 686.9C507.9 684.9 507.9 682.9 508.0 680.9C508.1 678.9 508.1 676.9 508.2 674.9C508.3 672.9 508.3 670.9 508.4 668.9C508.5 666.9 508.5 664.9 508.6 662.9C508.7 660.9 508.7 658.9 508.8 656.9C508.8 654.9 508.9 652.9 509.0 650.9C509.0 648.9 509.1 646.9 509.2 644.9C509.2 642.9 509.3 640.9 509.3 638.9C509.4 636.9 509.5 634.9 509.5 632.9C509.6 630.9 509.6 628.9 509.7 626.9C509.8 624.9 509.8 622.9 509.9 620.9C509.9 618.9 510.0 616.9 510.1 614.9C510.1 612.9 510.2 610.9 510.2 608.8C510.3 606.8 510.3 604.8 510.4 602.8C510.4 600.8 510.5 598.8 510.6 596.8C510.6 594.8 510.7 592.8 510.7 590.8C510.8 588.8 510.8 586.8 510.9 584.8C510.9 582.8 511.0 580.8 511.1 578.8C511.1 576.8 511.2 574.8 511.2 572.8C511.3 570.8 511.3 568.8 511.4 566.8C511.5 564.8 511.5 562.8 511.6 560.8C511.6 558.8 511.7 556.8 511.8 554.8C511.8 552.8 511.9 550.8 511.9 548.8C512.0 546.8 512.1 544.8 512.1 542.8C512.2 540.8 512.3 538.8 512.3 536.8C512.4 534.8 512.5 532.8 512.5 530.8C512.6 528.8 512.7 526.8 512.8 524.8C512.8 522.8 512.9 520.8 513.0 518.8C513.0 516.8 513.1 514.8 513.2 512.8C513.3 510.8 513.4 508.8 513.4 506.8C513.5 504.8 513.6 502.8 513.7 500.8C513.8 498.8 513.9 496.8 514.0 494.8C514.0 492.8 514.1 490.8 514.2 488.8C514.3 486.8 514.4 484.8 514.5 482.8C514.6 480.8 514.7 478.8 514.8 476.9C514.9 474.9 515.0 472.9 515.1 470.9C515.2 468.9 515.3 466.9 515.5 464.9C515.6 462.9 515.7 460.9 515.8 458.9C515.9 456.9 516.0 454.9 516.2 452.9C516.3 450.9 516.4 448.9 516.5 446.9C516.7 444.9 516.8 442.9 516.9 440.9C517.1 438.9 517.2 436.9 517.3 434.9C517.5 432.9 517.6 431.0 517.8 429.0C517.9 427.0 518.1 425.0 518.2 423.0C518.4 421.0 518.5 419.0 518.7 417.0C518.8 415.0 519.0 413.0 519.2 411.0C519.3 409.0 519.5 407.0 519.6 405.0C519.8 403.0 520.0 401.0 520.2 399.0C520.3 397.0 520.5 395.0 520.7 393.0C520.9 391.0 521.1 389.0 521.3 387.0C521.4 385.0 521.6 383.1 521.9 381.1C522.1 379.1 522.3 377.1 522.6 375.1C522.9 373.1 523.2 371.1 523.6 369.2C524.0 367.2 524.4 365.3 525.1 363.4C525.7 361.5 527.0 358.8 527.4 357.9C527.8 358.8 529.4 361.4 530.1 363.3C530.8 365.1 531.3 367.0 531.8 369.0C532.3 370.9 532.6 372.9 532.9 374.8C533.3 376.8 533.6 378.8 533.9 380.8C534.2 382.8 534.5 384.7 534.7 386.7C535.0 388.7 535.2 390.7 535.5 392.7C535.7 394.7 535.9 396.7 536.2 398.7C536.4 400.7 536.6 402.7 536.8 404.7C537.0 406.7 537.2 408.7 537.4 410.6C537.7 412.6 537.9 414.6 538.1 416.6C538.3 418.6 538.5 420.6 538.7 422.6C538.8 424.6 539.0 426.6 539.2 428.6C539.4 430.6 539.6 432.6 539.8 434.5C540.0 436.5 540.2 438.5 540.4 440.5C540.6 442.5 540.7 444.5 540.9 446.5C541.1 448.5 541.3 450.5 541.5 452.5C541.7 454.4 541.9 456.4 542.0 458.4C542.2 460.4 542.4 462.4 542.6 464.4C542.8 466.4 543.0 468.4 543.2 470.4C543.4 472.4 543.5 474.3 543.7 476.3C543.9 478.3 544.1 480.3 544.3 482.3C544.5 484.3 544.7 486.3 544.9 488.3C545.1 490.3 545.3 492.3 545.5 494.3C545.7 496.3 545.9 498.2 546.1 500.2C546.3 502.2 546.5 504.2 546.6 506.2C546.8 508.2 547.0 510.2 547.2 512.2C547.3 514.2 547.5 516.2 547.7 518.2C547.9 520.2 548.0 522.2 548.2 524.1C548.4 526.1 548.6 528.1 548.7 530.1C548.9 532.1 549.1 534.1 549.2 536.1C549.4 538.1 549.6 540.1 549.7 542.1C549.9 544.1 550.1 546.1 550.2 548.1C550.4 550.1 550.6 552.0 550.7 554.0C550.9 556.0 551.1 558.0 551.2 560.0C551.4 562.0 551.5 564.0 551.7 566.0C551.8 568.0 552.0 570.0 552.2 572.0C552.3 574.0 552.5 576.0 552.7 578.0C552.9 579.9 553.1 581.9 553.3 583.9C553.5 585.9 553.6 587.9 553.8 589.9C554.0 591.9 554.2 593.9 554.4 595.9C554.6 597.9 554.8 599.9 555.0 601.9C555.1 603.9 555.3 605.8 555.5 607.8C555.7 609.8 555.9 611.8 556.1 613.8C556.3 615.8 556.5 617.8 556.7 619.8C556.9 621.8 557.1 623.8 557.3 625.8C557.5 627.7 557.7 629.7 557.9 631.7C558.1 633.7 558.3 635.7 558.6 637.7C558.8 639.7 559.0 641.7 559.2 643.7C559.4 645.7 559.6 647.6 559.9 649.6C560.1 651.6 560.3 653.6 560.5 655.6C560.8 657.6 561.0 659.6 561.2 661.6C561.5 663.5 561.7 665.5 562.0 667.5C562.2 669.5 562.5 671.5 562.7 673.5C563.0 675.5 563.2 677.4 563.5 679.4C563.8 681.4 564.0 683.4 564.3 685.4C564.6 687.4 564.8 689.4 565.1 691.3C565.4 693.3 565.7 695.3 566.0 697.3C566.2 699.3 566.5 701.3 566.8 703.2C567.1 705.2 567.4 707.2 567.7 709.2C568.0 711.2 568.3 713.1 568.6 715.1C568.9 717.1 569.2 719.1 569.5 721.1C569.8 723.0 570.1 725.0 570.4 727.0C570.8 729.0 571.1 731.0 571.4 732.9C571.7 734.9 572.1 736.9 572.4 738.9C572.7 740.8 573.0 742.8 573.4 744.8C573.7 746.8 574.1 748.7 574.4 750.7C574.7 752.7 575.1 754.7 575.4 756.6C575.8 758.6 576.1 760.6 576.5 762.6C576.9 764.5 577.2 766.5 577.6 768.5C578.0 770.4 578.3 772.4 578.7 774.4C579.1 776.4 579.4 778.3 579.8 780.3C580.2 782.3 580.6 784.2 581.0 786.2C581.4 788.2 581.7 790.1 582.1 792.1C582.5 794.1 582.9 796.0 583.3 798.0C583.7 800.0 584.1 801.9 584.5 803.9C584.9 805.9 585.3 807.8 585.8 809.8C586.2 811.7 586.6 813.7 587.0 815.7C587.4 817.6 587.8 819.6 588.3 821.5C588.7 823.5 589.1 825.5 589.5 827.4C590.0 829.4 590.4 831.3 590.8 833.3C591.3 835.2 591.7 837.2 592.2 839.2C592.6 841.1 593.0 843.1 593.5 845.0C593.9 847.0 594.4 848.9 594.8 850.9C595.3 852.8 595.7 854.8 596.1 856.7C596.5 858.7 597.0 860.6 597.4 862.6C597.9 864.5 598.3 866.5 598.7 868.4C599.2 870.4 599.6 872.3 600.1 874.3C600.5 876.2 601.0 878.2 601.5 880.1C601.9 882.0 602.4 884.0 602.8 885.9C603.3 887.9 603.8 889.8 604.2 891.8C604.7 893.7 605.2 895.6 605.7 897.6C606.1 899.5 606.6 901.5 607.1 903.4C607.6 905.3 608.1 907.3 608.5 909.2C609.0 911.1 609.5 913.1 610.0 915.0C610.5 916.9 611.0 918.9 611.5 920.8C612.0 922.7 612.5 924.7 613.0 926.6C613.5 928.5 614.0 930.5 614.5 932.4C615.1 934.3 615.6 936.3 616.1 938.2C616.6 940.1 617.1 942.0 617.7 944.0C618.2 945.9 618.7 947.8 619.3 949.7C619.8 951.7 620.4 953.6 620.9 955.5C621.5 957.4 622.0 959.4 622.6 961.3C623.1 963.2 623.7 965.1 624.2 967.0C624.8 969.0 625.3 970.9 625.9 972.8C626.5 974.7 627.0 976.6 627.6 978.5C628.2 980.5 628.8 982.4 629.3 984.3C629.9 986.2 630.5 988.1 631.1 990.0C631.7 991.9 632.2 993.8 632.8 995.8C633.4 997.7 634.0 999.6 634.6 1001.5C635.2 1003.4 635.8 1005.3 636.4 1007.2C637.0 1009.1 637.6 1011.0 638.2 1012.9C638.8 1014.8 639.5 1016.7 640.1 1018.6C640.7 1020.5 641.3 1022.4 641.9 1024.3C642.5 1026.2 643.2 1028.1 643.8 1030.0C644.4 1031.9 645.0 1033.8 645.7 1035.7C646.3 1037.6 647.0 1039.5 647.6 1041.4C648.3 1043.3 648.9 1045.2 649.6 1047.1C650.3 1049.0 650.9 1050.9 651.6 1052.8C652.2 1054.7 652.9 1056.5 653.6 1058.4C654.2 1060.3 654.9 1062.2 655.6 1064.1C656.3 1066.0 656.9 1067.9 657.6 1069.7C658.3 1071.6 659.0 1073.5 659.7 1075.4C660.4 1077.3 661.1 1079.2 661.8 1081.0C662.5 1082.9 663.2 1084.8 663.9 1086.7C664.6 1088.6 665.3 1090.4 666.0 1092.3C666.7 1094.2 667.4 1096.0 668.1 1097.9C668.9 1099.8 669.6 1101.7 670.3 1103.5C671.1 1105.4 671.8 1107.2 672.5 1109.1C673.3 1111.0 674.0 1112.8 674.8 1114.7C675.5 1116.5 676.3 1118.4 677.0 1120.3C677.8 1122.1 678.6 1124.0 679.3 1125.8C680.1 1127.6 680.9 1129.5 681.7 1131.3C682.5 1133.2 683.3 1135.0 684.1 1136.9C684.9 1138.7 685.7 1140.5 686.5 1142.4C687.3 1144.2 688.1 1146.0 688.9 1147.8C689.8 1149.7 690.6 1151.5 691.4 1153.3C692.3 1155.1 693.1 1156.9 694.0 1158.7C694.8 1160.5 695.7 1162.4 696.5 1164.2C697.4 1166.0 698.3 1167.8 699.2 1169.6C700.1 1171.4 701.0 1173.1 701.9 1174.9C702.8 1176.7 703.7 1178.5 704.7 1180.3C705.6 1182.1 706.5 1183.8 707.5 1185.6C708.4 1187.4 709.4 1189.2 710.3 1190.9C711.3 1192.7 712.2 1194.5 713.1 1196.3C714.1 1198.1 715.0 1199.8 716.0 1201.6C716.9 1203.4 717.8 1205.2 718.7 1207.0C719.6 1208.8 720.5 1210.6 721.4 1212.4C722.3 1214.2 723.2 1216.0 724.0 1217.8C724.9 1219.7 725.7 1221.5 726.6 1223.3C727.4 1225.2 728.2 1227.0 729.0 1228.8C729.9 1230.7 730.7 1232.5 731.6 1234.3C732.4 1236.1 733.3 1237.9 734.2 1239.7C735.2 1241.5 736.1 1243.2 737.1 1245.0C738.2 1246.7 739.2 1248.4 740.3 1250.1C741.3 1251.8 742.4 1253.5 743.5 1255.1C744.6 1256.8 745.8 1258.4 746.9 1260.1C748.1 1261.7 749.3 1263.3 750.5 1264.9C751.7 1266.5 753.0 1268.0 754.2 1269.6C755.5 1271.1 756.8 1272.7 758.1 1274.2C759.4 1275.7 760.7 1277.2 762.1 1278.7C763.4 1280.2 764.7 1281.7 766.1 1283.2C767.5 1284.7 768.8 1286.2 770.2 1287.6C771.6 1289.1 772.9 1290.6 774.3 1292.0C775.7 1293.5 777.0 1295.0 778.4 1296.5C779.7 1297.9 781.1 1299.4 782.4 1300.9C783.8 1302.4 785.1 1303.8 786.5 1305.3C787.8 1306.8 789.2 1308.3 790.5 1309.8C791.8 1311.2 793.2 1312.7 794.5 1314.2C795.8 1315.7 797.2 1317.2 798.5 1318.7C799.8 1320.2 801.2 1321.7 802.5 1323.2C803.8 1324.7 805.1 1326.2 806.5 1327.6C807.8 1329.1 809.1 1330.6 810.4 1332.1C811.8 1333.6 813.1 1335.2 814.4 1336.7C815.8 1338.2 817.1 1339.7 818.4 1341.2C819.7 1342.7 821.1 1344.2 822.4 1345.7C823.7 1347.2 825.1 1348.7 826.4 1350.2C827.8 1351.7 829.1 1353.2 830.5 1354.6C831.9 1356.1 830.9 1355.3 834.7 1359.0C838.4 1362.7 847.1 1372.1 853.3 1376.9C859.4 1381.7 865.5 1383.3 871.6 1387.9C877.7 1392.5 883.8 1399.4 889.9 1404.4C896.0 1409.4 902.1 1414.0 908.2 1418.1C914.3 1422.3 920.4 1425.3 926.5 1429.1C932.6 1432.9 938.7 1437.7 944.8 1441.0C950.9 1444.4 957.0 1446.8 963.2 1449.3C969.3 1451.7 975.4 1453.1 981.5 1455.7C987.6 1458.3 993.7 1461.9 999.8 1464.8C1005.9 1467.7 1012.0 1471.0 1018.1 1473.1C1024.2 1475.2 1030.3 1476.2 1036.4 1477.3C1042.5 1478.4 1048.6 1478.9 1054.7 1479.5C1060.8 1480.1 1066.9 1480.5 1073.0 1481.0C1079.1 1481.4 1085.3 1481.3 1091.4 1482.2C1097.5 1483.2 1103.6 1484.8 1109.7 1486.8C1115.8 1488.8 1121.9 1492.5 1128.0 1494.1C1134.1 1495.8 1140.2 1496.1 1146.3 1496.9C1152.4 1497.6 1159.0 1497.6 1164.6 1498.7C1170.2 1499.8 1175.9 1502.0 1180.0 1503.3C1184.1 1504.6 1183.1 1505.8 1189.2 1506.6C1195.3 1507.4 1209.0 1507.4 1216.6 1507.9C1224.3 1508.3 1228.8 1508.8 1234.9 1509.3C1241.1 1509.9 1247.2 1510.4 1253.3 1511.0C1259.4 1511.6 1265.5 1512.4 1271.6 1512.8C1277.7 1513.3 1286.8 1513.6 1289.9 1513.7"/>
<path stroke="#ff00ff" d="M349.8 1561.0C355.0 1560.8 374.8 1560.5 381.3 1559.8C387.8 1559.1 385.6 1557.8 388.6 1557.0C391.7 1556.2 396.5 1555.5 399.6 1554.9C402.6 1554.4 405.1 1554.5 406.9 1553.8C408.8 1553.2 409.6 1552.1 410.6 1550.8C411.6 1549.4 412.2 1547.7 412.8 1545.6C413.4 1543.6 413.7 1540.5 414.2 1538.3C414.7 1536.1 415.2 1534.4 415.7 1532.5C416.1 1530.5 416.4 1528.5 416.8 1526.6C417.1 1524.6 417.4 1522.6 417.6 1520.6C417.9 1518.6 418.1 1516.6 418.3 1514.7C418.5 1512.7 418.6 1510.7 418.8 1508.7C418.9 1506.7 419.1 1504.7 419.2 1502.7C419.3 1500.7 419.5 1498.7 419.6 1496.7C419.7 1494.7 419.8 1492.7 420.0 1490.7C420.1 1488.7 420.2 1486.7 420.3 1484.7C420.4 1482.7 420.5 1480.7 420.6 1478.7C420.7 1476.7 420.8 1474.7 420.9 1472.7C421.0 1470.7 421.1 1468.7 421.2 1466.7C421.3 1464.7 421.4 1462.7 421.5 1460.7C421.6 1458.7 421.7 1456.7 421.8 1454.7C421.9 1452.7 421.9 1450.7 422.0 1448.7C422.1 1446.7 422.2 1444.7 422.3 1442.7C422.3 1440.7 422.4 1438.7 422.5 1436.7C422.6 1434.7 422.6 1432.7 422.7 1430.7C422.8 1428.7 422.8 1426.7 422.9 1424.7C422.9 1422.7 423.0 1420.7 423.1 1418.7C423.1 1416.7 423.2 1414.7 423.2 1412.7C423.3 1410.7 423.4 1408.7 423.4 1406.7C423.5 1404.7 423.5 1402.7 423.6 1400.7C423.6 1398.7 423.7 1396.7 423.7 1394.7C423.8 1392.6 423.8 1390.6 423.9 1388.6C423.9 1386.6 424.0 1384.6 424.0 1382.6C424.1 1380.6 424.1 1378.6 424.2 1376.6C424.2 1374.6 424.2 1372.6 424.3 1370.6C424.3 1368.6 424.4 1366.6 424.4 1364.6C424.5 1362.6 424.5 1360.6 424.6 1358.6C424.6 1356.6 424.6 1354.6 424.7 1352.6C424.7 1350.6 424.8 1348.6 424.8 1346.6C424.8 1344.6 424.9 1342.6 424.9 1340.6C425.0 1338.6 425.0 1336.6 425.0 1334.6C425.1 1332.6 425.1 1330.6 425.2 1328.6C425.2 1326.6 425.2 1324.6 425.3 1322.6C425.3 1320.6 425.4 1318.6 425.4 1316.6C425.4 1314.6 425.5 1312.6 425.5 1310.6C425.6 1308.6 425.6 1306.6 425.6 1304.6C425.7 1302.6 425.7 1300.6 425.7 1298.6C425.8 1296.6 425.8 1294.5 425.8 1292.5C425.9 1290.5 425.9 1288.5 426.0 1286.5C426.0 1284.5 426.0 1282.5 426.1 1280.5C426.1 1278.5 426.1 1276.5 426.2 1274.5C426.2 1272.5 426.2 1270.5 426.3 1268.5C426.3 1266.5 426.3 1264.5 426.4 1262.5C426.4 1260.5 426.4 1258.5 426.5 1256.5C426.5 1254.5 426.5 1252.5 426.6 1250.5C426.6 1248.5 426.6 1246.5 426.7 1244.5C426.7 1242.5 426.7 1240.5 426.8 1238.5C426.8 1236.5 426.8 1234.5 426.9 1232.5C426.9 1230.5 426.9 1228.5 427.0 1226.5C427.0 1224.5 427.0 1222.5 427.1 1220.4C427.1 1218.4 427.1 1216.4 427.2 1214.4C427.2 1212.4 427.2 1210.4 427.2 1208.4C427.3 1206.4 427.3 1204.4 427.3 1202.4C427.4 1200.4 427.4 1198.4 427.4 1196.4C427.5 1194.4 427.5 1192.4 427.5 1190.4C427.6 1188.4 427.6 1186.4 427.6 1184.4C427.6 1182.4 427.7 1180.4 427.7 1178.4C427.7 1176.4 427.8 1174.4 427.8 1172.4C427.8 1170.4 427.9 1168.4 427.9 1166.4C427.9 1164.4 428.0 1162.4 428.0 1160.4C428.0 1158.4 428.0 1156.4 428.1 1154.3C428.1 1152.3 428.1 1150.3 428.2 1148.3C428.2 1146.3 428.2 1144.3 428.2 1142.3C428.3 1140.3 428.3 1138.3 428.3 1136.3C428.4 1134.3 428.4 1132.3 428.4 1130.3C428.5 1128.3 428.5 1126.3 428.5 1124.3C428.5 1122.3 428.6 1120.3 428.6 1118.3C428.6 1116.3 428.7 1114.3 428.7 1112.3C428.7 1110.3 428.8 1108.3 428.8 1106.3C428.8 1104.3 428.8 1102.3 428.9 1100.3C428.9 1098.3 428.9 1096.3 429.0 1094.3C429.0 1092.3 429.0 1090.3 429.1 1088.3C429.1 1086.2 429.1 1084.2 429.1 1082.2C429.2 1080.2 429.2 1078.2 429.2 1076.2C429.3 1074.2 429.3 1072.2 429.3 1070.2C429.4 1068.2 429.4 1066.2 429.4 1064.2C429.5 1062.2 429.5 1060.2 429.5 1058.2C429.5 1056.2 429.6 1054.2 429.6 1052.2C429.6 1050.2 429.7 1048.2 429.7 1046.2C429.7 1044.2 429.8 1042.2 429.8 1040.2C429.8 1038.2 429.9 1036.2 429.9 1034.2C429.9 1032.2 430.0 1030.2 430.0 1028.2C430.0 1026.2 430.1 1024.2 430.1 1022.2C430.1 1020.2 430.2 1018.2 430.2 1016.2C430.2 1014.2 430.3 1012.1 430.3 1010.1C430.3 1008.1 430.4 1006.1 430.4 1004.1C430.4 1002.1 430.5 1000.1 430.5 998.1C430.5 996.1 430.6 994.1 430.6 992.1C430.6 990.1 430.7 988.1 430.7 986.1C430.7 984.1 430.8 982.1 430.8 980.1C430.8 978.1 430.9 976.1 430.9 974.1C431.0 972.1 431.0 970.1 431.0 968.1C431.1 966.1 431.1 964.1 431.1 962.1C431.2 960.1 431.2 958.1 431.3 956.1C431.3 954.1 431.3 952.1 431.4 950.1C431.4 948.1 431.4 946.1 431.5 944.1C431.5 942.1 431.6 940.1 431.6 938.1C431.6 936.1 431.7 934.1 431.7 932.1C431.8 930.1 431.8 928.1 431.8 926.1C431.9 924.1 431.9 922.1 432.0 920.1C432.0 918.1 432.0 916.1 432.1 914.0C432.1 912.0 432.2 910.0 432.2 908.0C432.3 906.0 432.3 904.0 432.3 902.0C432.4 900.0 432.4 898.0 432.5 896.0C432.5 894.0 432.6 892.0 432.6 890.0C432.6 888.0 432.7 886.0 432.7 884.0C432.8 882.0 432.8 880.0 432.9 878.0C432.9 876.0 433.0 874.0 433.0 872.0C433.1 870.0 433.1 868.0 433.2 866.0C433.2 864.0 433.3 862.0 433.3 860.0C433.4 858.0 433.4 856.0 433.5 854.0C433.5 852.0 433.5 850.0 433.6 848.0C433.6 846.0 433.7 844.0 433.7 842.0C433.8 840.0 433.8 838.0 433.9 836.0C433.9 834.0 434.0 832.0 434.1 830.0C434.1 828.0 434.2 826.0 434.2 824.0C434.3 822.0 434.3 820.0 434.4 818.0C434.4 816.0 434.5 814.0 434.5 812.0C434.6 810.0 434.6 808.0 434.7 806.0C434.7 804.0 434.8 802.0 434.8 800.0C434.9 798.0 434.9 796.0 435.0 794.0C435.0 792.0 435.1 790.0 435.1 788.0C435.2 786.0 435.2 784.0 435.3 782.0C435.3 780.0 435.4 778.0 435.4 776.0C435.5 774.0 435.5 772.0 435.6 770.0C435.6 768.0 435.7 766.0 435.7 764.0C435.8 762.0 435.8 760.0 435.9 758.0C435.9 755.9 436.0 753.9 436.0 751.9C436.1 749.9 436.1 747.9 436.2 745.9C436.2 743.9 436.3 741.9 436.3 739.9C436.4 737.9 436.4 735.9 436.5 733.9C436.5 731.9 436.6 729.9 436.6 727.9C436.7 725.9 436.7 723.9 436.8 721.9C436.8 719.9 436.9 717.9 436.9 715.9C436.9 713.9 437.0 711.9 437.0 709.9C437.1 707.9 437.1 705.9 437.2 703.8C437.2 701.8 437.3 699.8 437.3 697.8C437.4 695.8 437.4 693.8 437.4 691.8C437.5 689.8 437.6 687.8 437.6 685.8C437.7 683.8 437.8 681.8 437.8 679.8C437.9 677.8 438.0 675.8 438.1 673.8C438.2 671.8 438.4 669.8 438.5 667.8C438.6 665.8 438.8 663.8 439.0 661.8C439.2 659.8 439.3 657.9 439.6 655.9C439.8 653.9 440.0 651.9 440.3 649.9C440.6 648.0 440.9 646.0 441.4 644.1C441.9 642.1 443.1 639.3 443.4 638.4C443.7 639.3 444.8 642.1 445.3 644.0C445.8 646.0 446.2 647.9 446.6 649.9C446.9 651.8 447.2 653.8 447.5 655.8C447.8 657.8 448.0 659.7 448.2 661.7C448.4 663.7 448.6 665.7 448.8 667.7C449.0 669.7 449.2 671.7 449.4 673.7C449.7 675.7 449.9 677.7 450.1 679.7C450.3 681.6 450.5 683.6 450.7 685.6C451.0 687.6 451.2 689.6 451.4 691.6C451.7 693.6 451.9 695.5 452.1 697.5C452.4 699.5 452.6 701.5 452.9 703.5C453.2 705.5 453.4 707.4 453.7 709.4C454.0 711.4 454.2 713.4 454.5 715.4C454.8 717.3 455.1 719.3 455.4 721.3C455.6 723.3 455.9 725.2 456.2 727.2C456.5 729.2 456.8 731.2 457.1 733.1C457.4 735.1 457.7 737.1 458.0 739.1C458.3 741.1 458.6 743.0 458.9 745.0C459.2 747.0 459.5 749.0 459.9 750.9C460.2 752.9 460.5 754.9 460.8 756.9C461.1 758.8 461.4 760.8 461.7 762.8C462.0 764.8 462.3 766.7 462.7 768.7C463.0 770.7 463.3 772.7 463.6 774.6C463.9 776.6 464.2 778.6 464.5 780.6C464.8 782.5 465.1 784.5 465.3 786.5C465.6 788.5 465.9 790.4 466.2 792.4C466.5 794.4 466.8 796.4 467.0 798.4C467.3 800.3 467.6 802.3 467.9 804.3C468.2 806.3 468.5 808.3 468.7 810.2C469.0 812.2 469.3 814.2 469.5 816.2C469.8 818.2 470.1 820.1 470.3 822.1C470.6 824.1 470.8 826.1 471.1 828.1C471.3 830.1 471.6 832.0 471.8 834.0C472.0 836.0 472.3 838.0 472.5 840.0C472.7 842.0 473.0 844.0 473.2 846.0C473.4 847.9 473.6 849.9 473.8 851.9C474.0 853.9 474.2 855.9 474.4 857.9C474.7 859.9 474.9 861.9 475.1 863.9C475.3 865.9 475.5 867.9 475.7 869.8C475.9 871.8 476.1 873.8 476.2 875.8C476.4 877.8 476.6 879.8 476.8 881.8C477.0 883.8 477.2 885.8 477.4 887.8C477.6 889.8 477.8 891.8 477.9 893.8C478.1 895.8 478.3 897.8 478.5 899.8C478.7 901.8 478.9 903.8 479.1 905.8C479.3 907.7 479.4 909.7 479.6 911.7C479.8 913.7 480.0 915.7 480.2 917.7C480.4 919.7 480.6 921.7 480.8 923.7C481.0 925.7 481.2 927.7 481.4 929.7C481.7 931.7 481.9 933.7 482.1 935.7C482.3 937.6 482.5 939.6 482.7 941.6C482.9 943.6 483.2 945.6 483.4 947.6C483.6 949.6 483.8 951.6 484.0 953.6C484.3 955.6 484.5 957.6 484.7 959.5C485.0 961.5 485.2 963.5 485.4 965.5C485.7 967.5 485.9 969.5 486.2 971.5C486.4 973.5 486.7 975.4 486.9 977.4C487.2 979.4 487.4 981.4 487.7 983.4C487.9 985.4 488.2 987.4 488.4 989.3C488.7 991.3 489.0 993.3 489.2 995.3C489.5 997.3 489.8 999.3 490.0 1001.3C490.3 1003.2 490.6 1005.2 490.9 1007.2C491.1 1009.2 491.4 1011.2 491.7 1013.1C492.0 1015.1 492.3 1017.1 492.6 1019.1C492.9 1021.1 493.1 1023.1 493.4 1025.0C493.7 1027.0 494.0 1029.0 494.3 1031.0C494.6 1033.0 494.9 1034.9 495.2 1036.9C495.5 1038.9 495.8 1040.9 496.1 1042.9C496.4 1044.8 496.7 1046.8 497.0 1048.8C497.3 1050.8 497.6 1052.8 497.9 1054.7C498.1 1056.7 498.4 1058.7 498.7 1060.7C499.0 1062.6 499.3 1064.6 499.6 1066.6C499.9 1068.6 500.2 1070.6 500.5 1072.5C500.8 1074.5 501.1 1076.5 501.4 1078.5C501.7 1080.5 502.1 1082.4 502.4 1084.4C502.7 1086.4 503.0 1088.4 503.2 1090.4C503.5 1092.3 503.9 1094.3 504.1 1096.3C504.4 1098.3 504.7 1100.3 505.0 1102.2C505.3 1104.2 505.5 1106.2 505.8 1108.2C506.1 1110.2 506.3 1112.2 506.6 1114.1C506.9 1116.1 507.1 1118.1 507.4 1120.1C507.7 1122.1 507.9 1124.0 508.2 1126.0C508.5 1128.0 508.7 1130.0 509.0 1132.0C509.3 1134.0 509.5 1135.9 509.8 1137.9C510.1 1139.9 510.4 1141.9 510.6 1143.9C510.9 1145.8 511.2 1147.8 511.5 1149.8C511.7 1151.8 512.0 1153.8 512.3 1155.7C512.6 1157.7 512.9 1159.7 513.2 1161.7C513.4 1163.6 513.7 1165.6 514.0 1167.6C514.3 1169.6 514.6 1171.5 514.9 1173.5C515.2 1175.5 515.5 1177.5 515.9 1179.4C516.2 1181.4 516.5 1183.4 516.8 1185.3C517.1 1187.3 517.4 1189.3 517.7 1191.3C518.1 1193.2 518.4 1195.2 518.7 1197.2C519.1 1199.1 519.4 1201.1 519.8 1203.0C520.1 1205.0 520.4 1207.0 520.8 1208.9C521.1 1210.9 521.5 1212.9 521.9 1214.8C522.2 1216.8 522.6 1218.7 523.0 1220.7C523.4 1222.7 523.8 1224.6 524.2 1226.6C524.6 1228.5 525.1 1230.5 525.5 1232.4C525.9 1234.4 526.3 1236.4 526.8 1238.3C527.2 1240.3 527.7 1242.2 528.1 1244.2C528.6 1246.1 529.0 1248.1 529.5 1250.0C529.9 1252.0 530.4 1253.9 530.8 1255.9C531.3 1257.8 531.8 1259.8 532.2 1261.7C532.7 1263.7 533.2 1265.6 533.7 1267.5C534.2 1269.5 534.7 1271.4 535.1 1273.4C535.6 1275.3 536.1 1277.3 536.6 1279.2C537.1 1281.1 537.7 1283.1 538.2 1285.0C538.7 1287.0 539.2 1288.9 539.7 1290.8C540.2 1292.8 540.8 1294.7 541.3 1296.6C541.8 1298.6 542.4 1300.5 542.9 1302.4C543.4 1304.4 544.0 1306.3 544.5 1308.2C545.0 1310.2 545.6 1312.1 546.1 1314.0C546.7 1315.9 547.2 1317.9 547.8 1319.8C548.3 1321.7 548.9 1323.7 549.5 1325.6C550.0 1327.5 550.6 1329.4 551.2 1331.4C551.8 1333.3 552.4 1335.2 552.9 1337.1C553.5 1339.0 554.1 1341.0 554.7 1342.9C555.3 1344.8 555.9 1346.7 556.6 1348.6C557.2 1350.5 557.8 1352.4 558.4 1354.3C559.1 1356.2 559.7 1358.1 560.4 1360.0C561.0 1361.9 561.7 1363.8 562.4 1365.7C563.1 1367.6 563.8 1369.5 564.5 1371.4C565.2 1373.2 565.9 1375.1 566.6 1377.0C567.3 1378.8 568.0 1380.7 568.8 1382.5C569.6 1384.4 570.3 1386.2 571.1 1388.1C571.9 1389.9 572.7 1391.7 573.5 1393.6C574.3 1395.4 575.1 1397.2 576.0 1399.0C576.8 1400.8 577.7 1402.6 578.5 1404.4C579.4 1406.1 580.3 1407.9 581.2 1409.7C582.1 1411.4 583.1 1413.2 584.0 1414.9C585.0 1416.7 585.9 1418.4 586.9 1420.1C587.9 1421.9 588.9 1423.6 590.0 1425.3C591.0 1426.9 592.1 1428.6 593.1 1430.3C594.2 1432.0 595.3 1433.6 596.4 1435.3C597.5 1436.9 598.7 1438.5 599.9 1440.2C601.0 1441.8 602.2 1443.4 603.4 1445.0C604.7 1446.5 605.9 1448.1 607.2 1449.7C608.4 1451.2 609.7 1452.8 611.0 1454.3C612.4 1455.8 611.2 1455.1 615.1 1458.8C619.0 1462.5 629.4 1472.0 634.4 1476.4C639.5 1480.9 639.6 1482.5 645.4 1485.6C651.2 1488.6 660.7 1491.7 669.2 1494.7C677.8 1497.8 686.6 1500.8 696.7 1503.9C706.8 1506.9 718.1 1510.4 729.7 1513.0C741.3 1515.7 757.9 1518.9 766.3 1520.0C774.7 1521.1 776.5 1519.2 780.0 1519.8C783.5 1520.4 784.3 1522.9 787.3 1523.4C790.4 1524.0 793.4 1523.7 798.3 1523.1C803.2 1522.5 810.5 1520.5 816.6 1519.8C822.7 1519.1 828.8 1518.7 834.9 1518.9C841.1 1519.0 847.2 1520.4 853.3 1520.7C859.4 1521.0 865.5 1520.8 871.6 1520.7C877.7 1520.6 883.8 1520.4 889.9 1520.3C896.0 1520.3 902.7 1519.7 908.2 1520.3C913.7 1521.0 918.9 1522.8 922.9 1524.4C926.8 1525.9 930.5 1528.9 932.0 1529.9"/>
</g>
<g font-family="'Liberation Sans', Arial, sans-serif" font-size="57.2" fill="#000">
<text x="268.2" y="1576.0" text-anchor="end">0.00</text>
<text x="268.2" y="1351.2" text-anchor="end">0.02</text>
<text x="268.2" y="1126.5" text-anchor="end">0.04</text>
<text x="268.2" y="901.8" text-anchor="end">0.06</text>
<text x="268.2" y="677.0" text-anchor="end">0.08</text>
<text x="268.2" y="452.2" text-anchor="end">0.10</text>
<text x="268.2" y="227.5" text-anchor="end">0.12</text>
<text x="312.0" y="1648" text-anchor="middle">0</text>
<text x="683.9" y="1648" text-anchor="middle">200</text>
<text x="1055.8" y="1648" text-anchor="middle">400</text>
<text x="1427.6" y="1648" text-anchor="middle">600</text>
<text x="1799.5" y="1648" text-anchor="middle">800</text>
</g>
<g font-family="'Liberation Sans', Arial, sans-serif" font-size="70" fill="#000">
<text x="1149.3" y="1756.2" text-anchor="middle">t [s]</text>
<text transform="translate(77 854) rotate(-90)" text-anchor="middle">Abs [-]</text>
</g>
<rect x="1784" y="33" width="498" height="357" fill="#000"/>
<rect x="1787" y="35" width="493" height="353" fill="#fff"/>
<g>
<rect x="1793" y="79" width="160" height="5" fill="#000000"/>
<rect x="1793" y="165" width="160" height="5" fill="#ff0000"/>
<rect x="1793" y="251" width="160" height="5" fill="#0000ff"/>
<rect x="1793" y="338" width="160" height="5" fill="#ff00ff"/>
</g>
<g font-family="'Liberation Sans', Arial, sans-serif" font-size="57.2" fill="#000">
<text x="1970.5" y="105.8">1.8 cm<tspan dy="-27" dx="1" font-size="34.5">3</tspan><tspan dy="27" dx="1.5">/min</tspan></text>
<text x="1966.3" y="190.4">2.0 cm<tspan dy="-27" dx="1" font-size="34.5">3</tspan><tspan dy="27" dx="1.5">/min</tspan></text>
<text x="1966.3" y="277.5">2.5 cm<tspan dy="-27" dx="1" font-size="34.5">3</tspan><tspan dy="27" dx="1.5">/min</tspan></text>
<text x="1966.3" y="364.0">5.0 cm<tspan dy="-27" dx="1" font-size="34.5">3</tspan><tspan dy="27" dx="1.5">/min</tspan></text>
</g>
</svg>
</body>
</html>
